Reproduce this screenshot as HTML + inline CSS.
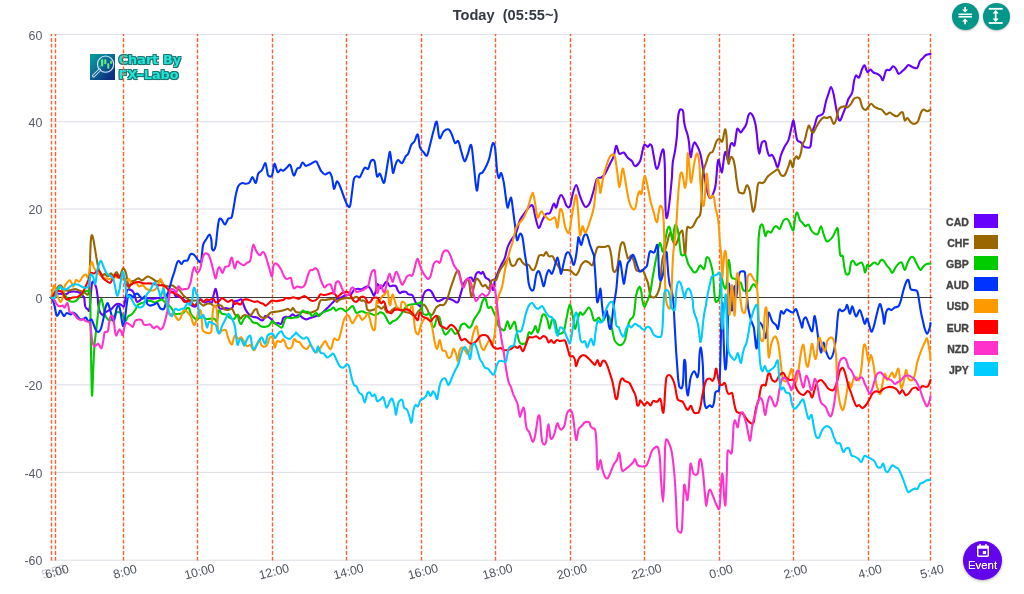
<!DOCTYPE html>
<html lang="en"><head><meta charset="utf-8"><title>Today (05:55~)</title>
<style>
html,body{margin:0;padding:0;background:#fff;}
body{width:1024px;height:594px;position:relative;overflow:hidden;font-family:"Liberation Sans",sans-serif;}
#chart{position:absolute;left:0;top:0;}
#title{position:absolute;left:0;width:1011px;top:5.6px;text-align:center;font-weight:bold;font-size:14.6px;color:#333843;white-space:pre;line-height:18px;}
.btn{position:absolute;top:2.9px;width:26.8px;height:26.8px;border-radius:50%;background:#009688;box-shadow:0 1px 2px rgba(0,0,0,.25);}
.btn svg{position:absolute;left:0;top:0;}
.lg{position:absolute;left:930px;width:68px;height:14px;}
.lt{position:absolute;right:29.2px;top:.8px;line-height:14px;font-size:10.5px;font-weight:bold;color:#444;letter-spacing:0;-webkit-text-stroke:.35px #444;}
.sw{position:absolute;right:0;top:0;width:24px;height:14px;}
#event{position:absolute;left:963px;top:541px;width:39px;height:39px;border-radius:50%;background:#6305ec;box-shadow:0 1px 3px rgba(0,0,0,.3);color:#fff;text-align:center;}
#event span{position:absolute;left:-2px;width:43px;top:17.6px;font-size:11.4px;line-height:12px;text-shadow:0 0 .4px #fff;}
#event svg{position:absolute;left:13.6px;top:3.2px;}
#logo{position:absolute;left:90.3px;top:54.4px;width:25.2px;height:25.2px;background:linear-gradient(135deg,#08a29b 0%,#0d6d97 45%,#0c3482 80%,#0c2a7c 100%);}
#logotxt{position:absolute;left:118.6px;top:53.2px;font-family:"DejaVu Sans","Liberation Sans",sans-serif;font-weight:bold;font-size:12.8px;line-height:14.6px;color:#20e6da;letter-spacing:.05px;text-shadow:0 0 1px #176f6b,1px 1px 0 #1f7672,-1px -1px 0 #1f7672,1px -1px 0 #1f7672,-1px 1px 0 #1f7672,.5px 1.2px .8px #0f5a57;}
#logotxt i{font-style:normal;display:inline-block;width:6.4px;text-align:center;transform:scaleX(1.75);}
</style></head><body>
<div id="logo"><svg width="25.2" height="25.2" viewBox="0 -0.3 25.2 25.2"><circle cx="15.600" cy="9.850" r="8.100" fill="none" stroke="#d6e8f4" stroke-width="1.150"/><line x1="9.500" y1="15.700" x2="3.600" y2="21.600" stroke="#d6e8f4" stroke-width="3.100" stroke-linecap="round"/><line x1="9.300" y1="15.900" x2="3.700" y2="21.500" stroke="#1a5f98" stroke-width="1.300" stroke-linecap="round"/><g fill="#6cf07c"><rect x="11.100" y="5" width="2.100" height="7.100" rx=".8"/><rect x="14.300" y="5" width="2" height="4.900" rx=".8"/><rect x="17.300" y="9" width="2" height="5.400" rx=".8"/><rect x="20.200" y="6.100" width="1.700" height="3.500" rx=".7"/><rect x="9.700" y="11.300" width=".9" height="1.400" rx=".4"/></g></svg></div>
<div id="logotxt">Chart By<br>FX<i>-</i>Labo</div>
<svg id="chart" width="1024" height="594" viewBox="0 0 1024 594">
<line x1="50.5" x2="930.5" y1="34.4" y2="34.4" stroke="#dcdde6" stroke-width="1"/>
<line x1="50.5" x2="930.5" y1="121.7" y2="121.7" stroke="#dcdde6" stroke-width="1"/>
<line x1="50.5" x2="930.5" y1="209.05" y2="209.05" stroke="#dcdde6" stroke-width="1"/>
<line x1="50.5" x2="930.5" y1="384.85" y2="384.85" stroke="#dcdde6" stroke-width="1"/>
<line x1="50.5" x2="930.5" y1="472.4" y2="472.4" stroke="#dcdde6" stroke-width="1"/>
<line x1="50.5" x2="930.5" y1="560.2" y2="560.2" stroke="#dcdde6" stroke-width="1"/>
<line x1="51.5" x2="51.5" y1="560.6" y2="34" stroke="#ff6130" stroke-width="1.4" stroke-dasharray="3.8 1.9"/>
<line x1="55.5" x2="55.5" y1="560.6" y2="34" stroke="#ff6130" stroke-width="1.4" stroke-dasharray="3.8 1.9"/>
<line x1="123.5" x2="123.5" y1="560.6" y2="34" stroke="#ff6130" stroke-width="1.4" stroke-dasharray="3.8 1.9"/>
<line x1="197.5" x2="197.5" y1="560.6" y2="34" stroke="#ff6130" stroke-width="1.4" stroke-dasharray="3.8 1.9"/>
<line x1="272.5" x2="272.5" y1="560.6" y2="34" stroke="#ff6130" stroke-width="1.4" stroke-dasharray="3.8 1.9"/>
<line x1="346.5" x2="346.5" y1="560.6" y2="34" stroke="#ff6130" stroke-width="1.4" stroke-dasharray="3.8 1.9"/>
<line x1="421.5" x2="421.5" y1="560.6" y2="34" stroke="#ff6130" stroke-width="1.4" stroke-dasharray="3.8 1.9"/>
<line x1="495.5" x2="495.5" y1="560.6" y2="34" stroke="#ff6130" stroke-width="1.4" stroke-dasharray="3.8 1.9"/>
<line x1="570.5" x2="570.5" y1="560.6" y2="34" stroke="#ff6130" stroke-width="1.4" stroke-dasharray="3.8 1.9"/>
<line x1="644.5" x2="644.5" y1="560.6" y2="34" stroke="#ff6130" stroke-width="1.4" stroke-dasharray="3.8 1.9"/>
<line x1="719.5" x2="719.5" y1="560.6" y2="34" stroke="#ff6130" stroke-width="1.4" stroke-dasharray="3.8 1.9"/>
<line x1="793.5" x2="793.5" y1="560.6" y2="34" stroke="#ff6130" stroke-width="1.4" stroke-dasharray="3.8 1.9"/>
<line x1="868.5" x2="868.5" y1="560.6" y2="34" stroke="#ff6130" stroke-width="1.4" stroke-dasharray="3.8 1.9"/>
<line x1="930.5" x2="930.5" y1="560.6" y2="34" stroke="#ff6130" stroke-width="1.4" stroke-dasharray="3.8 1.9"/>
<line x1="49.2" x2="932.3" y1="297.45" y2="297.45" stroke="#3a3a3a" stroke-width="1.1"/>
<g fill="none" stroke-width="2.1" stroke-linejoin="round" stroke-linecap="round">
<path stroke="#6600ff" d="M51.5,297.8C52.3,297.1 54.0,294.6 56.5,294.0C59.0,293.4 64.4,294.3 66.5,294.0C68.6,293.7 67.8,292.5 69.0,292.1C70.2,291.7 72.5,291.5 74.0,291.5C75.5,291.5 76.5,291.7 77.8,292.1C79.0,292.5 80.5,293.1 81.5,294.0C82.5,294.9 83.5,297.2 84.0,297.8C84.2,298.3 84.0,296.1 84.2,297.5C84.5,298.9 84.7,304.3 85.2,306.2C85.8,308.2 87.0,309.0 87.8,309.4C88.5,309.8 88.9,313.2 89.6,308.8C90.4,304.3 91.1,286.5 92.1,282.8C93.2,279.0 94.9,284.0 95.9,286.5C96.8,289.0 97.4,295.1 97.8,297.8C98.0,300.4 97.8,300.2 98.0,302.5C98.3,304.8 98.8,309.2 99.6,311.2C100.4,313.3 101.8,314.8 102.8,315.0C103.7,315.2 103.8,313.5 105.2,312.5C106.7,311.5 109.8,310.0 111.5,308.8C113.2,307.5 114.0,305.8 115.2,305.0C116.5,304.2 117.9,303.6 119.0,303.8C120.1,303.9 121.3,305.2 122.1,305.6C123.0,306.0 123.5,307.2 124.0,306.2C124.5,305.3 124.8,302.3 125.2,300.0C125.7,297.7 126.1,294.2 126.5,292.5C126.9,290.8 126.9,290.0 127.8,289.6C128.6,289.2 130.5,289.6 131.5,290.2C132.5,290.9 133.2,291.5 134.0,293.4C134.8,295.2 135.7,299.9 136.5,301.2C137.3,302.6 138.0,301.8 139.0,301.2C140.0,300.7 141.3,298.6 142.8,298.1C144.2,297.6 146.1,298.0 147.8,298.1C149.4,298.2 151.3,298.8 152.8,298.8C154.2,298.8 154.6,298.3 156.5,298.1C158.4,297.9 161.4,298.6 164.0,297.5C166.6,296.4 170.0,291.7 172.0,291.5C174.0,291.3 175.0,295.7 175.8,296.5C176.4,297.3 175.8,296.1 176.4,296.2C177.2,296.4 179.0,296.5 180.8,297.5C182.5,298.5 184.9,301.0 187.0,302.5C189.1,304.0 191.8,305.6 193.2,306.2C194.7,306.9 194.8,307.1 195.8,306.2C196.7,305.4 198.0,302.4 198.9,301.2C199.7,300.1 199.8,299.2 200.8,299.4C201.7,299.6 203.2,302.2 204.5,302.5C205.8,302.8 207.0,301.2 208.2,301.2C209.5,301.2 211.1,303.8 212.0,302.5C212.9,301.2 213.2,296.0 213.9,293.8C214.5,291.5 215.1,288.4 215.8,289.0C216.4,289.6 217.1,294.4 217.6,297.5C218.1,300.6 218.1,305.6 218.9,307.5C219.6,309.4 220.9,308.6 222.0,308.8C223.1,308.9 224.5,308.1 225.8,308.1C227.0,308.1 228.4,308.9 229.5,308.8C230.6,308.6 231.9,308.6 232.6,307.5C233.4,306.4 232.9,303.0 233.9,301.9C234.8,300.7 237.0,301.0 238.2,300.6C239.5,300.2 240.5,298.9 241.4,299.4C242.2,299.9 242.5,302.0 243.2,303.8C244.0,305.5 244.7,308.1 245.8,310.0C246.8,311.9 248.2,313.9 249.5,315.0C250.8,316.1 252.0,316.5 253.2,316.9C254.5,317.3 255.8,317.0 257.0,317.5C258.2,318.0 259.7,319.6 260.8,320.0C261.8,320.4 262.5,320.6 263.2,320.0C264.0,319.4 264.3,316.8 265.1,316.2C266.0,315.7 267.1,316.2 268.2,316.9C269.4,317.5 271.0,319.0 272.0,320.0C273.0,321.0 273.5,322.6 274.5,323.1C275.5,323.6 277.1,323.0 278.2,323.1C279.4,323.2 280.5,324.6 281.4,323.8C282.2,322.9 282.5,319.3 283.2,318.1C284.0,317.0 284.7,317.1 285.8,316.9C286.8,316.7 288.4,317.3 289.5,316.9C290.6,316.5 291.7,314.5 292.6,314.4C293.6,314.3 294.6,315.9 295.1,316.2C295.7,316.6 295.3,316.5 296.0,316.2C296.7,316.0 298.1,314.8 299.1,315.0C300.2,315.2 301.1,316.8 302.2,317.5C303.4,318.2 304.8,319.3 306.0,319.4C307.2,319.5 308.5,318.5 309.8,318.1C311.0,317.7 312.2,317.3 313.5,316.9C314.8,316.5 316.0,316.1 317.2,315.6C318.5,315.1 319.8,314.6 321.0,313.8C322.2,312.9 323.5,311.8 324.8,310.6C326.0,309.5 327.2,308.1 328.5,306.9C329.8,305.6 331.0,304.4 332.2,303.1C333.5,301.9 334.8,300.2 336.0,299.4C337.2,298.5 338.5,298.6 339.8,298.1C341.0,297.6 342.2,296.8 343.5,296.2C344.8,295.7 346.0,295.3 347.2,295.0C348.5,294.7 349.9,295.2 351.0,294.4C352.1,293.5 353.1,290.9 354.1,290.0C355.2,289.1 356.1,288.9 357.2,288.8C358.4,288.6 359.8,289.6 361.0,289.4C362.2,289.2 363.6,288.0 364.8,287.5C365.9,287.0 366.9,286.0 367.9,286.2C368.8,286.5 369.6,287.7 370.4,288.8C371.1,289.8 371.6,291.4 372.2,292.5C372.9,293.6 373.5,296.0 374.1,295.6C374.8,295.2 375.5,291.9 376.0,290.0C376.5,288.1 376.7,285.1 377.2,284.4C377.8,283.6 378.5,285.0 379.1,285.6C379.8,286.2 380.3,288.1 381.0,288.1C381.7,288.1 382.7,286.7 383.5,285.6C384.3,284.6 385.3,282.3 386.0,281.9C386.7,281.5 387.2,282.4 387.9,283.1C388.5,283.9 388.9,285.8 389.8,286.2C390.6,286.7 391.8,285.6 392.9,285.6C393.9,285.6 395.2,285.4 396.0,286.2C396.8,287.1 397.2,289.5 397.9,290.6C398.5,291.8 399.0,292.9 399.8,293.1C400.5,293.3 401.2,292.1 402.2,291.9C403.3,291.7 405.0,291.5 406.0,291.9C407.0,292.3 407.5,293.9 408.5,294.4C409.5,294.9 411.3,294.3 412.2,295.0C413.2,295.7 413.5,297.4 414.1,298.8C414.8,300.1 415.3,302.1 416.0,303.1C416.7,304.2 417.7,304.6 418.5,305.0C419.3,305.4 420.1,307.5 421.0,305.6C421.9,303.8 422.7,296.4 423.8,293.8C424.8,291.1 426.2,290.4 427.5,290.0C428.8,289.6 430.1,290.0 431.2,291.2C432.4,292.5 433.5,295.8 434.5,297.5C435.5,299.2 436.4,300.8 437.5,301.2C438.6,301.7 440.0,300.5 441.2,300.0C442.5,299.5 443.8,298.2 445.0,298.0C446.2,297.8 447.5,298.4 448.8,298.8C450.0,299.1 451.0,299.4 452.5,300.0C454.0,300.6 456.2,303.1 457.5,302.5C458.8,301.9 459.2,298.8 460.0,296.2C460.8,293.8 461.7,290.0 462.5,287.5C463.3,285.0 464.1,282.7 465.0,281.2C465.9,279.8 467.0,279.4 468.0,278.8C469.0,278.1 470.3,277.1 471.2,277.5C472.2,277.9 472.9,281.9 473.8,281.2C474.6,280.6 475.4,275.3 476.2,273.8C477.1,272.2 477.9,272.0 478.8,272.0C479.6,272.0 480.5,273.8 481.2,273.8C482.0,273.8 482.3,271.4 483.0,272.0C483.7,272.6 484.5,276.2 485.5,277.5C486.5,278.8 487.8,278.5 488.8,279.5C489.7,280.5 490.5,282.0 491.2,283.8C492.0,285.5 492.4,290.6 493.0,290.0C493.6,289.4 494.2,282.9 495.0,280.0C495.8,277.1 497.0,275.0 498.0,272.5C499.0,270.0 500.1,267.5 501.2,265.0C502.4,262.5 504.0,260.4 505.0,257.5C506.0,254.6 506.5,250.4 507.5,247.5C508.5,244.6 509.8,242.5 511.2,240.0C512.7,237.5 514.8,235.8 516.2,232.5C517.7,229.2 518.5,223.3 520.0,220.0C521.5,216.7 523.3,214.8 525.0,212.5C526.7,210.2 528.7,207.3 530.0,206.2C531.3,205.2 532.1,204.4 533.0,206.2C533.9,208.1 534.5,213.9 535.5,217.5C536.5,221.1 537.6,227.6 538.8,228.0C539.9,228.4 541.2,222.4 542.5,220.0C543.8,217.6 545.0,214.9 546.2,213.8C547.5,212.6 548.8,214.7 550.0,213.0C551.2,211.3 552.7,204.7 553.8,203.8C554.8,202.8 555.4,208.3 556.2,207.5C557.1,206.7 557.9,200.8 558.8,198.8C559.6,196.7 560.4,195.0 561.2,195.0C562.1,195.0 562.8,196.9 563.8,198.8C564.7,200.6 565.7,205.0 566.8,206.2C567.8,207.5 569.0,208.1 570.0,206.2C571.0,204.4 571.5,198.5 572.5,195.0C573.5,191.5 575.0,184.8 576.2,185.0C577.5,185.2 578.8,192.9 580.0,196.2C581.2,199.6 582.7,203.2 583.8,205.0C584.8,206.8 585.2,207.4 586.2,207.0C587.3,206.6 588.8,205.3 590.0,202.5C591.2,199.7 592.6,194.0 593.8,190.0C594.9,186.0 595.8,180.8 597.0,178.8C598.2,176.7 599.9,178.3 601.2,177.5C602.6,176.7 603.5,176.0 605.0,173.8C606.5,171.5 608.5,166.7 610.0,163.8C611.5,160.8 612.7,159.2 613.8,156.2C614.8,153.2 615.3,146.2 616.2,145.8C617.2,145.3 618.0,152.6 619.2,153.8C620.5,154.9 622.4,151.9 623.8,152.5C625.1,153.1 626.1,156.0 627.5,157.5C628.9,159.0 630.8,159.8 632.0,161.2C633.2,162.7 633.7,166.2 635.0,166.2C636.3,166.2 638.9,163.3 640.0,161.2C641.1,159.2 641.2,156.4 641.9,153.8C642.5,151.1 643.1,147.1 643.8,145.6C644.4,144.2 645.0,144.8 645.6,145.0C646.3,145.2 647.0,147.0 647.8,146.9C648.5,146.8 649.3,144.5 650.0,144.4C650.7,144.3 651.2,144.3 651.9,146.2C652.5,148.2 653.1,152.9 653.8,156.2C654.4,159.6 655.0,164.2 655.6,166.2C656.2,168.3 656.7,169.0 657.2,168.8C657.8,168.5 658.2,167.1 658.8,165.0C659.3,162.9 660.0,158.8 660.6,156.2C661.2,153.8 662.0,150.8 662.5,150.0C663.0,149.2 663.4,148.8 663.8,151.2C664.1,153.8 664.5,158.8 664.8,165.0C665.0,171.2 665.0,181.2 665.1,188.8C665.3,196.2 665.4,205.1 665.6,210.0C665.9,214.9 666.1,217.7 666.5,218.1C666.9,218.5 667.5,215.9 668.1,212.5C668.7,209.1 669.4,203.3 670.0,197.5C670.6,191.7 671.4,183.3 671.9,177.5C672.3,171.7 672.2,166.9 672.8,162.5C673.3,158.1 674.3,155.6 675.0,151.2C675.7,146.9 676.4,141.7 676.9,136.2C677.4,130.8 677.5,123.0 677.9,118.8C678.3,114.5 678.8,112.2 679.4,110.6C679.9,109.1 680.6,109.3 681.2,109.4C681.9,109.5 682.7,109.3 683.1,111.2C683.6,113.2 683.6,118.3 684.0,121.2C684.4,124.2 685.0,126.6 685.6,128.8C686.2,130.9 686.9,132.1 687.5,134.4C688.1,136.7 688.6,139.3 689.0,142.5C689.4,145.7 689.7,151.4 690.0,153.8C690.3,156.1 690.6,157.9 691.0,156.9C691.4,155.8 691.9,149.9 692.5,147.5C693.1,145.1 693.8,143.0 694.4,142.5C695.0,142.0 695.5,143.2 696.2,144.4C697.0,145.5 698.0,147.6 698.8,149.4C699.5,151.1 700.0,152.6 700.6,155.0C701.2,157.4 701.7,160.6 702.2,163.8C702.8,166.9 703.3,171.3 703.8,174.0C704.2,176.7 704.5,177.3 705.0,180.0C705.5,182.7 706.2,187.3 706.9,190.0C707.5,192.7 708.1,194.9 708.8,196.2C709.4,197.6 709.9,198.5 710.6,198.1C711.4,197.7 712.3,195.9 713.1,193.8C714.0,191.6 714.9,190.0 715.6,185.0C716.4,180.0 717.0,167.9 717.5,163.8C718.0,159.6 718.3,159.6 718.8,160.0C719.2,160.4 719.5,164.2 720.0,166.2C720.5,168.3 721.4,172.7 721.9,172.5C722.4,172.3 722.7,167.9 723.1,165.0C723.5,162.1 724.0,157.2 724.4,155.0C724.8,152.8 725.2,151.7 725.6,151.9C726.0,152.1 726.5,154.9 726.9,156.2C727.3,157.6 727.7,161.0 728.1,160.0C728.5,159.0 729.0,152.6 729.4,150.0C729.8,147.4 730.1,145.5 730.6,144.4C731.1,143.2 731.6,142.9 732.2,143.1C732.9,143.3 733.8,146.4 734.4,145.6C734.9,144.9 735.2,141.4 735.6,138.8C736.0,136.1 736.5,131.7 736.9,130.0C737.3,128.3 737.5,128.3 738.1,128.8C738.8,129.2 739.8,132.4 740.6,132.5C741.5,132.6 742.2,130.7 743.1,129.4C744.1,128.0 745.4,126.6 746.2,124.4C747.1,122.2 747.5,118.1 748.1,116.2C748.8,114.4 749.4,113.4 750.0,113.1C750.6,112.8 751.2,113.5 751.9,114.4C752.5,115.2 753.1,116.4 753.8,118.1C754.4,119.9 755.1,122.2 755.6,125.0C756.1,127.8 756.5,131.2 756.9,135.0C757.3,138.8 757.7,144.4 758.1,147.5C758.5,150.6 759.0,153.8 759.4,153.8C759.8,153.8 760.2,149.4 760.6,147.5C761.0,145.6 761.4,143.5 761.9,142.5C762.4,141.5 763.1,141.4 763.8,141.2C764.4,141.1 765.1,140.6 765.6,141.9C766.1,143.1 766.3,146.5 766.9,148.8C767.4,151.0 768.1,154.5 769.0,155.5C769.9,156.5 771.3,154.2 772.2,155.0C773.2,155.8 773.8,158.0 774.8,160.0C775.7,162.0 776.7,167.8 777.8,167.0C778.8,166.2 779.8,158.5 781.0,155.0C782.2,151.5 783.5,148.8 784.8,146.2C786.0,143.8 787.4,143.1 788.5,140.0C789.6,136.9 790.7,130.8 791.5,127.5C792.3,124.2 792.9,120.1 793.5,120.5C794.1,120.9 794.6,126.8 795.2,130.0C795.9,133.2 796.3,137.9 797.2,140.0C798.2,142.1 800.0,141.5 801.0,142.5C802.0,143.5 802.5,145.4 803.5,146.2C804.5,147.1 806.1,147.5 807.2,147.5C808.4,147.5 809.7,148.8 810.5,146.2C811.3,143.8 811.5,136.0 812.2,132.5C813.0,129.0 813.9,127.6 814.8,125.0C815.6,122.4 816.2,118.7 817.2,117.0C818.3,115.3 820.0,115.8 821.0,115.0C822.0,114.2 822.7,114.8 823.5,112.5C824.3,110.2 825.2,104.4 826.0,101.2C826.8,98.1 827.7,96.1 828.5,93.8C829.3,91.4 830.2,87.0 831.0,87.0C831.8,87.0 832.7,90.3 833.5,93.8C834.3,97.2 835.2,103.3 836.0,107.5C836.8,111.7 837.8,116.7 838.5,118.8C839.2,120.8 839.8,120.8 840.5,120.0C841.2,119.2 842.1,116.0 843.0,113.8C843.9,111.5 845.1,108.8 846.0,106.2C846.9,103.8 847.5,101.0 848.5,98.8C849.5,96.5 851.3,95.4 852.2,92.5C853.2,89.6 853.4,84.1 854.0,81.2C854.6,78.4 855.2,76.1 856.0,75.5C856.8,74.9 858.0,78.6 859.0,77.5C860.0,76.4 861.3,70.8 862.2,68.8C863.2,66.8 863.9,65.0 864.8,65.5C865.6,66.0 866.3,71.3 867.2,72.0C868.2,72.7 869.5,69.4 870.5,69.5C871.5,69.6 872.4,71.8 873.5,72.5C874.6,73.2 876.1,73.1 877.2,73.8C878.4,74.4 879.5,75.2 880.5,76.2C881.5,77.3 882.1,81.0 883.0,80.0C883.9,79.0 884.9,72.2 886.0,70.5C887.1,68.8 888.6,70.7 889.8,70.0C890.9,69.3 892.0,66.5 893.0,66.2C894.0,66.0 895.1,67.5 896.0,68.8C896.9,70.0 897.5,73.3 898.5,73.8C899.5,74.2 901.0,72.3 902.2,71.2C903.5,70.2 905.0,68.5 906.0,67.5C907.0,66.5 907.5,65.1 908.5,65.0C909.5,64.9 910.8,66.5 912.2,67.0C913.7,67.5 916.0,69.0 917.2,68.0C918.5,67.0 918.9,62.8 919.8,61.2C920.6,59.7 921.2,59.8 922.2,58.8C923.3,57.7 924.6,55.8 926.0,55.0C927.4,54.2 929.8,54.2 930.5,54.0"/>
<path stroke="#996600" d="M51.5,297.8C52.1,296.7 54.2,293.3 55.2,291.5C56.3,289.7 56.9,288.2 57.8,287.1C58.6,286.1 59.4,285.1 60.2,285.2C61.1,285.4 61.9,286.9 62.8,287.8C63.6,288.6 64.2,289.8 65.2,290.2C66.3,290.7 67.3,290.7 69.0,290.5C70.7,290.3 73.7,289.0 75.2,289.0C76.8,289.0 76.9,289.7 78.4,290.2C79.8,290.8 82.3,291.5 84.0,292.1C85.7,292.8 87.4,296.0 88.4,294.0C89.3,292.0 89.3,286.7 89.6,280.2C89.9,273.8 90.0,261.9 90.2,255.2C90.5,248.6 90.6,243.6 90.9,240.2C91.1,236.9 91.4,235.7 91.8,235.2C92.1,234.8 92.5,235.9 93.0,237.8C93.5,239.6 94.1,243.4 94.6,246.5C95.2,249.6 95.7,253.4 96.2,256.5C96.8,259.6 97.2,262.8 97.8,265.2C98.3,267.8 98.8,269.8 99.6,271.5C100.5,273.2 101.9,274.8 102.8,275.2C103.6,275.7 103.8,273.8 104.6,274.0C105.5,274.2 106.7,276.6 107.8,276.5C108.8,276.4 109.9,273.5 110.9,273.4C111.8,273.3 112.4,276.1 113.4,275.9C114.3,275.7 115.5,272.0 116.5,272.1C117.5,272.2 118.5,277.1 119.6,276.5C120.7,275.9 122.0,269.0 123.0,268.4C124.0,267.8 125.1,270.4 125.9,272.8C126.7,275.1 127.2,280.2 127.8,282.8C128.3,285.2 128.4,288.0 129.0,287.8C129.6,287.5 130.7,282.6 131.5,281.5C132.3,280.4 132.9,281.4 134.0,280.9C135.1,280.4 137.0,278.5 138.4,278.4C139.7,278.3 140.6,280.6 142.1,280.2C143.7,279.9 146.0,276.7 147.8,276.5C149.5,276.3 151.3,278.2 152.8,279.0C154.2,279.8 155.2,281.2 156.5,281.5C157.8,281.8 159.0,280.2 160.2,280.9C161.5,281.5 162.5,284.3 164.0,285.2C165.5,286.2 167.7,286.5 169.0,286.5C170.3,286.5 170.9,285.0 172.0,285.2C173.1,285.5 174.5,286.9 175.8,287.8C177.0,288.6 178.2,289.0 179.5,290.2C180.8,291.5 182.2,294.0 183.2,295.2C184.3,296.5 184.7,296.7 185.8,297.5C186.8,298.3 188.2,299.5 189.5,300.0C190.8,300.5 192.0,300.5 193.2,300.6C194.5,300.7 195.9,300.2 197.0,300.6C198.1,301.0 199.1,302.3 200.1,303.1C201.2,304.0 202.1,305.5 203.2,305.6C204.4,305.7 205.8,304.1 207.0,303.8C208.2,303.4 209.5,303.3 210.8,303.8C212.0,304.2 213.2,306.0 214.5,306.2C215.8,306.5 217.1,305.1 218.2,305.0C219.4,304.9 220.3,304.9 221.4,305.6C222.4,306.4 223.4,308.6 224.5,309.4C225.6,310.1 227.0,310.1 228.2,310.0C229.5,309.9 231.0,308.1 232.0,308.8C233.0,309.4 233.8,312.6 234.5,313.8C235.2,314.9 235.8,315.4 236.4,315.6C237.0,315.8 237.6,314.5 238.2,315.0C238.9,315.5 239.4,318.5 240.1,318.8C240.9,319.0 241.8,316.9 242.6,316.2C243.5,315.6 244.2,315.0 245.1,315.0C246.1,315.0 247.1,316.5 248.2,316.2C249.4,316.0 251.0,314.8 252.0,313.8C253.0,312.7 253.7,310.7 254.5,310.0C255.3,309.3 256.1,308.8 256.8,309.4C257.4,310.0 257.6,312.5 258.2,313.8C258.9,315.0 259.7,316.1 260.8,316.9C261.8,317.6 263.4,318.3 264.5,318.1C265.6,317.9 266.6,316.6 267.6,315.6C268.7,314.7 269.6,313.1 270.8,312.5C271.9,311.9 273.0,312.1 274.5,311.9C276.0,311.7 277.8,311.6 279.5,311.2C281.2,310.9 283.1,310.4 284.5,310.0C285.9,309.6 286.6,308.6 287.6,308.8C288.7,308.9 289.9,310.8 290.8,310.6C291.6,310.5 292.2,307.7 293.0,307.9C293.8,308.1 294.7,311.1 295.8,311.9C296.8,312.6 297.8,312.5 299.1,312.5C300.4,312.5 302.1,311.8 303.5,311.9C304.9,312.0 306.0,313.0 307.2,313.1C308.5,313.2 309.8,312.8 311.0,312.5C312.2,312.2 313.6,311.9 314.8,311.2C315.9,310.6 317.1,310.0 317.9,308.8C318.6,307.5 318.6,305.2 319.1,303.8C319.6,302.3 320.1,300.6 321.0,300.0C321.9,299.4 323.5,300.1 324.8,300.0C326.0,299.9 327.2,299.6 328.5,299.4C329.8,299.2 331.2,298.8 332.2,298.8C333.3,298.8 334.0,298.9 334.8,299.4C335.5,299.9 335.9,301.8 336.6,301.9C337.4,302.0 338.2,300.5 339.1,300.0C340.1,299.5 341.1,299.1 342.2,298.8C343.4,298.4 344.8,298.2 346.0,298.1C347.2,298.0 348.5,298.1 349.8,298.1C351.0,298.1 352.5,298.3 353.5,298.1C354.5,297.9 355.2,296.9 356.0,296.9C356.8,296.9 357.7,297.5 358.5,298.1C359.3,298.8 360.1,300.2 361.0,300.6C361.9,301.0 363.3,300.2 364.1,300.6C365.0,301.0 365.5,301.8 366.0,303.1C366.5,304.5 366.5,307.5 367.0,308.8C367.5,310.0 368.2,310.4 369.1,310.6C370.0,310.8 371.2,310.3 372.2,310.0C373.3,309.7 374.5,309.4 375.4,308.8C376.2,308.1 376.6,306.6 377.2,306.2C377.9,305.9 378.4,306.5 379.1,306.9C379.9,307.3 380.8,308.9 381.6,308.8C382.5,308.6 383.5,306.0 384.1,306.2C384.8,306.5 384.9,309.0 385.4,310.0C385.9,311.0 386.5,312.2 387.2,312.5C388.0,312.8 388.8,312.4 389.8,311.9C390.7,311.4 391.8,310.1 392.9,309.4C393.9,308.6 395.0,307.6 396.0,307.5C397.0,307.4 398.1,308.3 399.1,308.8C400.2,309.2 401.3,309.5 402.2,310.0C403.2,310.5 403.8,311.5 404.8,311.9C405.7,312.3 406.8,312.2 407.9,312.5C408.9,312.8 410.0,313.1 411.0,313.8C412.0,314.4 413.3,316.0 414.1,316.2C415.0,316.5 415.4,315.7 416.0,315.0C416.6,314.3 417.2,312.7 417.9,311.9C418.5,311.0 419.1,310.7 419.8,310.0C420.4,309.3 421.0,308.4 421.6,307.5C422.3,306.6 422.9,304.3 423.8,304.5C424.6,304.7 426.0,307.0 427.0,308.8C428.0,310.5 429.0,314.2 430.0,315.0C431.0,315.8 432.0,315.0 433.0,313.8C434.0,312.5 435.1,309.0 436.2,307.5C437.4,306.0 438.8,305.4 440.0,305.0C441.2,304.6 442.6,305.8 443.8,305.0C444.9,304.2 446.0,302.5 447.0,300.0C448.0,297.5 449.0,293.1 450.0,290.0C451.0,286.9 452.0,284.2 453.0,281.2C454.0,278.3 455.3,274.2 456.2,272.5C457.2,270.8 457.9,269.8 458.8,271.2C459.6,272.7 460.4,278.8 461.2,281.2C462.1,283.8 462.9,286.2 463.8,286.2C464.6,286.2 465.4,282.3 466.2,281.2C467.1,280.2 467.9,277.5 468.8,280.0C469.6,282.5 470.4,295.0 471.2,296.2C472.1,297.5 472.9,290.4 473.8,287.5C474.6,284.6 475.3,279.8 476.2,278.8C477.2,277.7 478.5,280.0 479.5,281.2C480.5,282.5 481.5,285.6 482.5,286.2C483.5,286.9 484.5,284.6 485.5,285.0C486.5,285.4 487.8,289.4 488.8,288.8C489.7,288.1 490.4,282.8 491.2,281.2C492.1,279.7 492.9,279.7 493.8,279.5C494.6,279.3 495.4,281.2 496.2,280.0C497.1,278.8 497.7,274.8 498.8,272.5C499.8,270.2 501.2,268.1 502.5,266.2C503.8,264.4 505.2,262.7 506.2,261.2C507.3,259.8 507.9,256.9 508.8,257.5C509.6,258.1 510.2,263.8 511.2,265.0C512.3,266.2 514.0,265.8 515.0,265.0C516.0,264.2 516.7,261.0 517.5,260.0C518.3,259.0 519.2,258.3 520.0,258.8C520.8,259.2 521.6,261.5 522.5,262.5C523.4,263.5 524.5,264.6 525.5,265.0C526.5,265.4 527.8,264.4 528.8,265.0C529.7,265.6 530.4,267.9 531.2,268.8C532.1,269.6 532.9,270.6 533.8,270.0C534.6,269.4 535.4,267.3 536.2,265.0C537.1,262.7 537.9,257.9 538.8,256.2C539.6,254.6 540.4,255.1 541.2,255.0C542.1,254.9 542.9,256.0 543.8,255.5C544.6,255.0 545.4,251.9 546.2,252.0C547.1,252.1 547.7,255.5 548.8,256.2C549.8,257.0 551.5,255.4 552.5,256.2C553.5,257.1 554.2,259.8 555.0,261.2C555.8,262.7 556.7,263.8 557.5,265.0C558.3,266.2 559.0,267.9 560.0,268.8C561.0,269.6 562.5,269.8 563.8,270.0C565.0,270.2 566.2,269.8 567.5,270.0C568.8,270.2 570.2,270.6 571.2,271.2C572.3,271.9 572.9,273.1 573.8,273.8C574.6,274.4 575.4,275.4 576.2,275.0C577.1,274.6 577.9,272.9 578.8,271.2C579.6,269.6 580.2,266.7 581.2,265.0C582.3,263.3 583.8,261.7 585.0,261.2C586.2,260.8 587.5,261.9 588.8,262.5C590.0,263.1 591.5,266.2 592.5,265.0C593.5,263.8 594.2,257.9 595.0,255.0C595.8,252.1 596.5,248.8 597.5,247.5C598.5,246.2 600.0,247.1 601.2,247.0C602.5,246.9 603.8,247.1 605.0,247.0C606.2,246.9 607.7,244.9 608.8,246.2C609.8,247.6 610.5,251.0 611.2,255.0C612.0,259.0 612.3,267.3 613.0,270.0C613.7,272.7 614.8,271.9 615.5,271.2C616.2,270.6 616.8,269.6 617.5,266.2C618.2,262.9 618.9,255.0 619.5,251.2C620.1,247.5 620.5,245.1 621.2,243.8C622.0,242.4 622.9,241.5 623.8,243.0C624.6,244.5 625.5,249.9 626.2,252.5C627.0,255.1 627.2,258.2 628.0,258.8C628.8,259.2 630.3,255.1 631.2,255.5C632.2,255.9 632.9,258.8 633.8,261.2C634.6,263.7 635.2,268.3 636.2,270.0C637.3,271.7 639.0,271.3 640.0,271.2C641.0,271.2 641.8,269.4 642.5,269.8C643.2,270.1 643.8,272.0 644.4,273.5C645.0,275.0 645.6,276.8 646.2,278.5C646.9,280.2 647.6,281.4 648.1,283.5C648.6,285.6 649.0,288.9 649.4,291.0C649.8,293.1 650.0,294.9 650.6,296.0C651.2,297.1 652.3,297.4 653.1,297.5C654.0,297.6 654.9,297.3 655.6,296.6C656.4,296.0 656.9,294.9 657.5,293.5C658.1,292.1 658.9,290.6 659.4,288.5C659.9,286.4 660.3,284.6 660.6,281.0C661.0,277.4 661.2,270.7 661.5,267.0C661.8,263.3 662.0,261.5 662.5,259.0C663.0,256.5 663.8,254.5 664.5,252.0C665.2,249.5 666.2,246.6 666.9,244.0C667.6,241.4 668.1,238.2 668.8,236.2C669.4,234.3 670.1,232.3 670.6,232.5C671.1,232.7 671.4,235.8 671.9,237.5C672.4,239.2 673.1,241.8 673.8,243.0C674.4,244.2 674.9,245.3 675.5,245.0C676.1,244.7 676.8,242.8 677.5,241.0C678.2,239.2 678.9,235.6 679.5,234.0C680.1,232.4 680.8,232.0 681.2,231.5C681.8,231.0 682.1,229.8 682.5,231.2C682.9,232.7 683.2,236.7 683.5,240.0C683.8,243.3 684.1,248.5 684.4,251.0C684.7,253.5 685.0,255.9 685.2,254.8C685.5,253.6 685.8,247.8 686.0,244.0C686.2,240.2 686.4,234.8 686.6,232.0C686.9,229.2 686.9,227.7 687.5,227.0C688.1,226.3 689.2,228.0 690.0,228.0C690.8,228.0 691.7,227.8 692.5,226.9C693.3,226.0 694.3,223.9 695.0,222.5C695.7,221.1 696.2,219.8 696.9,218.8C697.6,217.7 698.8,217.3 699.4,216.2C700.0,215.2 700.2,215.0 700.6,212.5C701.0,210.0 701.2,206.2 701.5,201.2C701.8,196.2 702.0,187.4 702.2,182.5C702.5,177.6 702.7,174.5 703.1,172.0C703.5,169.5 703.9,169.1 704.4,167.5C704.9,165.9 705.6,164.4 706.2,162.5C706.9,160.6 707.5,157.8 708.1,156.2C708.8,154.7 709.3,153.9 710.0,153.1C710.7,152.4 711.8,152.8 712.5,151.9C713.2,150.9 713.8,149.2 714.4,147.5C715.0,145.8 715.6,143.2 716.2,141.9C716.9,140.5 717.5,139.8 718.1,139.4C718.8,139.0 719.4,139.0 720.0,139.4C720.6,139.8 721.4,142.0 721.9,141.9C722.4,141.8 722.7,140.4 723.1,138.8C723.5,137.1 724.0,133.4 724.4,131.9C724.8,130.3 725.0,128.6 725.4,129.4C725.7,130.1 726.2,132.8 726.5,136.2C726.8,139.7 726.9,146.0 727.1,150.0C727.3,154.0 727.5,157.7 727.8,160.0C728.0,162.3 728.4,164.0 728.8,163.8C729.1,163.5 729.6,159.9 730.0,158.8C730.4,157.6 730.7,156.9 731.2,156.9C731.8,156.9 732.6,157.6 733.1,158.8C733.6,159.9 734.0,161.9 734.4,163.8C734.8,165.6 735.1,167.7 735.4,170.0C735.7,172.3 735.9,174.8 736.2,177.5C736.6,180.2 737.1,183.9 737.5,186.2C737.9,188.6 738.1,190.7 738.8,191.9C739.4,193.0 740.4,192.9 741.2,193.1C742.1,193.3 743.1,193.6 743.8,193.1C744.4,192.6 744.5,191.2 745.0,190.0C745.5,188.8 746.0,186.2 746.5,185.6C747.0,185.0 747.6,185.3 748.1,186.2C748.7,187.2 749.2,188.8 749.8,191.2C750.3,193.8 750.8,198.1 751.2,201.2C751.7,204.4 752.1,208.3 752.5,210.0C752.9,211.7 753.1,211.9 753.5,211.2C753.9,210.6 754.5,209.0 755.0,206.2C755.5,203.5 756.0,198.5 756.5,195.0C757.0,191.5 757.3,187.1 757.8,185.0C758.2,182.9 758.7,182.8 759.4,182.5C760.1,182.2 761.0,183.2 761.9,183.1C762.7,183.0 763.6,182.6 764.4,181.9C765.1,181.1 765.6,179.7 766.2,178.8C766.9,177.8 767.2,177.1 768.0,176.2C768.8,175.4 769.9,174.6 771.0,173.8C772.1,172.9 773.6,172.0 774.8,171.2C775.9,170.5 777.0,168.9 778.0,169.5C779.0,170.1 779.9,174.1 781.0,175.0C782.1,175.9 783.5,176.5 784.8,175.0C786.0,173.5 787.5,168.7 788.5,166.2C789.5,163.8 789.8,160.3 790.5,160.5C791.2,160.7 792.1,167.6 792.8,167.5C793.4,167.4 793.6,161.9 794.2,160.0C794.9,158.1 795.8,156.5 796.5,156.2C797.2,156.0 797.8,159.4 798.5,158.8C799.2,158.1 800.4,154.8 801.0,152.5C801.6,150.2 801.6,147.1 802.2,145.0C802.9,142.9 803.9,142.5 804.8,140.0C805.6,137.5 806.5,132.4 807.2,130.0C808.0,127.6 808.3,125.3 809.0,125.5C809.7,125.7 810.8,130.1 811.5,131.2C812.2,132.4 812.8,133.1 813.5,132.5C814.2,131.9 815.0,129.4 816.0,127.5C817.0,125.6 818.5,122.9 819.8,121.2C821.0,119.6 822.2,118.0 823.5,117.5C824.8,117.0 826.1,118.1 827.2,118.0C828.4,117.9 829.5,116.0 830.5,117.0C831.5,118.0 832.6,123.2 833.5,123.8C834.4,124.2 835.2,122.3 836.0,120.0C836.8,117.7 837.6,112.2 838.5,110.0C839.4,107.8 840.5,107.6 841.5,107.0C842.5,106.4 843.8,106.2 844.8,106.2C845.7,106.3 846.2,107.9 847.2,107.5C848.3,107.1 849.9,105.2 851.0,103.8C852.1,102.3 853.0,99.8 854.0,98.8C855.0,97.7 856.3,97.5 857.2,97.5C858.2,97.5 858.9,97.2 859.8,98.8C860.6,100.3 861.3,105.1 862.2,107.0C863.2,108.9 864.3,109.9 865.2,110.0C866.2,110.1 867.0,108.5 868.0,107.5C869.0,106.5 869.9,103.8 871.0,103.8C872.1,103.7 873.5,106.2 874.8,107.0C876.0,107.8 877.2,108.2 878.5,108.8C879.8,109.2 881.0,109.0 882.2,110.0C883.5,111.0 884.8,114.1 886.0,114.5C887.2,114.9 888.5,112.4 889.8,112.5C891.0,112.6 892.2,114.4 893.5,115.0C894.8,115.6 896.0,116.7 897.2,116.2C898.5,115.8 900.0,113.0 901.0,112.5C902.0,112.0 902.4,111.7 903.0,113.0C903.6,114.3 904.0,119.7 904.8,120.5C905.5,121.3 906.2,117.7 907.2,118.0C908.3,118.3 909.8,121.5 911.0,122.5C912.2,123.5 913.6,124.0 914.8,123.8C915.9,123.5 917.0,123.1 918.0,121.2C919.0,119.4 920.1,114.5 921.0,112.5C921.9,110.5 922.5,109.7 923.5,109.5C924.5,109.3 926.1,111.2 927.2,111.2C928.4,111.3 930.0,110.2 930.5,110.0"/>
<path stroke="#00cc00" d="M51.5,297.5C52.2,296.8 54.5,294.8 56.0,293.0C57.5,291.2 58.9,287.0 60.2,287.0C61.6,287.0 62.5,290.7 64.0,293.0C65.5,295.3 67.1,299.2 69.0,300.6C70.9,302.0 73.6,301.8 75.2,301.2C76.9,300.7 77.3,299.1 79.0,297.5C80.7,295.9 83.8,292.6 85.2,291.5C86.8,290.4 87.2,290.8 88.0,291.0C88.8,291.2 89.5,286.5 90.0,293.0C90.5,299.5 90.4,313.1 90.7,330.0C91.0,346.9 91.5,387.7 91.9,394.4C92.3,401.1 92.8,378.2 93.2,370.0C93.6,361.8 94.0,352.1 94.5,345.0C95.0,337.9 95.8,334.0 96.5,327.5C97.2,321.0 98.2,311.0 99.0,306.2C99.8,301.5 100.5,299.2 101.1,298.8C101.7,298.3 102.1,301.0 102.8,303.8C103.4,306.5 104.4,312.4 105.2,315.0C106.1,317.6 106.7,318.5 107.8,319.4C108.8,320.2 110.5,320.5 111.5,320.0C112.5,319.5 113.2,317.5 114.0,316.2C114.8,315.0 115.5,313.1 116.5,312.5C117.5,311.9 119.2,312.1 120.2,312.5C121.3,312.9 121.9,313.5 122.8,315.0C123.6,316.5 124.4,320.9 125.2,321.2C126.1,321.6 126.7,318.0 127.8,316.9C128.8,315.7 130.2,315.5 131.5,314.4C132.8,313.2 134.2,311.6 135.2,310.0C136.3,308.4 136.7,306.1 137.8,305.0C138.8,303.9 140.2,303.6 141.5,303.1C142.8,302.6 144.2,302.3 145.2,301.9C146.3,301.5 146.7,300.7 147.8,300.6C148.8,300.5 150.2,300.9 151.5,301.2C152.8,301.6 154.0,302.6 155.2,302.5C156.5,302.4 158.0,301.1 159.0,300.6C160.0,300.1 160.7,299.3 161.5,299.4C162.3,299.5 163.1,300.5 164.0,301.2C164.9,302.0 165.8,302.5 167.1,303.8C168.5,305.0 170.8,307.1 172.0,308.8C173.2,310.4 173.5,312.9 174.5,313.8C175.5,314.6 176.8,313.9 178.2,313.8C179.7,313.6 181.9,314.0 183.2,313.1C184.6,312.3 185.4,309.6 186.4,308.8C187.3,307.9 188.1,307.3 188.9,308.1C189.6,309.0 190.0,312.3 190.8,313.8C191.5,315.2 192.2,315.9 193.2,316.9C194.3,317.8 195.5,319.5 197.0,319.4C198.5,319.3 200.5,316.4 202.0,316.2C203.5,316.1 204.3,318.3 205.8,318.8C207.2,319.2 209.3,318.8 210.8,318.8C212.2,318.8 213.5,318.3 214.5,318.8C215.5,319.2 216.3,322.6 217.0,321.2C217.7,319.9 218.0,311.9 218.9,310.6C219.7,309.4 220.9,313.1 222.0,313.8C223.1,314.4 224.5,313.8 225.8,314.4C227.0,315.0 228.2,316.7 229.5,317.5C230.8,318.3 232.2,319.5 233.2,319.4C234.3,319.3 235.0,317.6 235.8,316.9C236.5,316.1 237.0,314.2 237.6,315.0C238.2,315.8 238.9,320.4 239.5,321.9C240.1,323.3 240.6,324.3 241.4,323.8C242.1,323.2 242.9,320.0 243.9,318.8C244.8,317.5 246.0,316.2 247.0,316.2C248.0,316.2 249.1,317.7 250.1,318.8C251.2,319.8 252.1,321.8 253.2,322.5C254.4,323.2 255.8,322.5 257.0,323.1C258.2,323.8 259.5,325.6 260.8,326.2C262.0,326.9 263.1,327.0 264.5,326.9C265.9,326.8 267.6,326.6 268.9,325.6C270.1,324.7 271.1,321.7 272.0,321.2C272.9,320.8 273.5,322.4 274.5,323.1C275.5,323.9 277.0,324.9 278.2,325.6C279.5,326.4 281.0,328.3 282.0,327.5C283.0,326.7 283.7,322.3 284.5,320.6C285.3,319.0 286.0,317.9 287.0,317.5C288.0,317.1 289.5,318.1 290.8,318.1C292.0,318.1 293.6,317.6 294.5,317.5C295.4,317.4 295.3,317.6 296.0,317.5C296.7,317.4 297.8,317.5 298.5,316.9C299.2,316.2 299.6,314.8 300.4,313.8C301.1,312.7 302.0,310.9 302.9,310.6C303.7,310.3 304.5,311.7 305.4,311.9C306.2,312.1 307.0,311.6 307.9,311.9C308.7,312.2 309.6,313.0 310.4,313.8C311.1,314.5 311.5,316.2 312.2,316.2C313.0,316.2 314.0,314.3 314.8,313.8C315.5,313.2 316.0,312.7 316.6,313.1C317.2,313.5 317.8,316.1 318.5,316.2C319.2,316.4 320.1,314.5 321.0,313.8C321.9,313.0 323.0,312.4 324.1,311.9C325.3,311.4 326.7,311.0 327.9,310.6C329.0,310.2 330.1,309.9 331.0,309.4C331.9,308.9 332.7,307.3 333.5,307.5C334.3,307.7 335.1,310.4 336.0,310.6C336.9,310.8 338.1,309.1 339.1,308.8C340.2,308.4 341.2,308.3 342.2,308.8C343.3,309.2 344.4,311.0 345.4,311.2C346.3,311.5 347.0,310.6 347.9,310.0C348.7,309.4 349.5,308.1 350.4,307.5C351.2,306.9 352.1,305.8 352.9,306.2C353.6,306.7 354.1,308.9 354.8,310.0C355.4,311.1 355.9,312.8 356.6,313.1C357.4,313.4 358.2,312.2 359.1,311.9C360.1,311.6 361.3,311.1 362.2,311.2C363.2,311.4 363.8,312.2 364.8,312.5C365.7,312.8 366.8,312.9 367.9,313.1C368.9,313.3 370.0,313.4 371.0,313.8C372.0,314.1 373.1,314.9 374.1,315.0C375.2,315.1 376.3,314.8 377.2,314.4C378.2,314.0 378.8,312.7 379.8,312.5C380.7,312.3 381.9,312.5 382.9,313.1C383.8,313.8 384.5,314.9 385.4,316.2C386.2,317.6 387.1,320.0 387.9,321.2C388.6,322.5 388.9,323.8 389.8,323.8C390.6,323.8 391.8,321.9 392.9,321.2C393.9,320.6 395.0,320.7 396.0,320.0C397.0,319.3 398.1,318.1 399.1,316.9C400.2,315.6 401.2,314.1 402.2,312.5C403.3,310.9 404.3,308.8 405.4,307.5C406.4,306.2 407.4,305.5 408.5,305.0C409.6,304.5 411.0,304.6 412.2,304.4C413.5,304.2 414.9,304.0 416.0,303.8C417.1,303.5 418.2,303.3 419.1,303.1C420.1,302.9 421.1,300.9 421.6,302.5C422.2,304.1 421.7,310.4 422.5,312.5C423.3,314.6 425.0,314.8 426.2,315.0C427.5,315.2 429.0,312.1 430.0,313.8C431.0,315.4 431.2,322.9 432.0,325.0C432.8,327.1 433.7,327.5 434.5,326.2C435.3,325.0 436.2,319.0 437.0,317.5C437.8,316.0 438.7,315.8 439.5,317.5C440.3,319.2 441.1,324.7 442.0,327.5C442.9,330.3 444.0,333.7 445.0,334.5C446.0,335.3 447.0,333.5 448.0,332.5C449.0,331.5 450.1,328.5 451.2,328.8C452.4,329.0 453.8,333.3 455.0,333.8C456.2,334.2 457.7,332.7 458.8,331.2C459.8,329.8 460.2,326.2 461.2,325.0C462.3,323.8 463.8,323.3 465.0,323.8C466.2,324.2 467.7,327.1 468.8,327.5C469.8,327.9 470.4,327.5 471.2,326.2C472.1,325.0 472.8,321.9 473.8,320.0C474.7,318.1 476.0,316.7 477.0,315.0C478.0,313.3 479.1,312.3 480.0,310.0C480.9,307.7 481.6,303.1 482.5,301.2C483.4,299.4 484.6,297.7 485.5,298.8C486.4,299.8 487.0,306.1 488.0,307.5C489.0,308.9 490.3,306.2 491.2,307.0C492.2,307.8 492.9,310.8 493.8,312.5C494.6,314.2 495.5,315.4 496.2,317.5C497.0,319.6 497.2,323.1 498.0,325.0C498.8,326.9 500.2,327.9 501.2,328.8C502.3,329.6 503.5,331.2 504.5,330.0C505.5,328.8 506.6,321.5 507.5,321.2C508.4,321.0 509.1,328.3 510.0,328.8C510.9,329.2 512.2,324.8 513.0,323.8C513.8,322.7 514.2,320.6 515.0,322.5C515.8,324.4 516.7,331.6 517.5,335.0C518.3,338.4 519.0,341.5 520.0,343.0C521.0,344.5 522.7,343.8 523.8,343.8C524.8,343.7 525.4,344.4 526.2,342.5C527.1,340.6 527.9,334.0 528.8,332.5C529.6,331.0 530.4,334.2 531.2,333.8C532.1,333.3 533.0,331.2 533.8,330.0C534.5,328.8 534.8,325.8 535.5,326.2C536.2,326.7 537.2,333.1 538.0,332.5C538.8,331.9 539.8,325.4 540.5,322.5C541.2,319.6 541.8,316.2 542.5,315.0C543.2,313.8 544.2,314.2 545.0,315.0C545.8,315.8 546.8,317.7 547.5,320.0C548.2,322.3 548.8,328.8 549.5,328.8C550.2,328.8 551.1,321.2 552.0,320.0C552.9,318.8 554.1,319.2 555.0,321.2C555.9,323.3 556.7,330.4 557.5,332.5C558.3,334.6 559.0,334.0 560.0,333.8C561.0,333.5 562.7,333.5 563.8,331.2C564.8,329.0 565.4,324.0 566.2,320.0C567.1,316.0 568.0,309.9 568.8,307.5C569.5,305.1 569.8,303.8 570.5,305.5C571.2,307.2 572.2,313.6 573.0,317.5C573.8,321.4 574.2,328.3 575.0,328.8C575.8,329.2 576.7,322.7 577.5,320.0C578.3,317.3 579.2,313.3 580.0,312.5C580.8,311.7 581.7,315.0 582.5,315.0C583.3,315.0 584.0,313.8 585.0,312.5C586.0,311.2 587.7,307.7 588.8,307.5C589.8,307.3 590.4,309.2 591.2,311.2C592.1,313.3 592.9,318.5 593.8,320.0C594.6,321.5 595.4,320.4 596.2,320.0C597.1,319.6 597.9,317.3 598.8,317.5C599.6,317.7 600.4,320.8 601.2,321.2C602.1,321.7 602.9,321.0 603.8,320.0C604.6,319.0 605.3,315.4 606.2,315.0C607.2,314.6 608.5,315.2 609.5,317.5C610.5,319.8 611.2,325.0 612.0,328.8C612.8,332.5 613.6,337.5 614.5,340.0C615.4,342.5 616.4,342.9 617.5,343.8C618.6,344.6 620.0,345.6 621.2,345.0C622.5,344.4 624.0,342.9 625.0,340.0C626.0,337.1 626.7,330.8 627.5,327.5C628.3,324.2 629.0,322.1 630.0,320.0C631.0,317.9 632.7,319.2 633.8,315.0C634.8,310.8 635.4,299.6 636.2,295.0C637.1,290.4 638.1,288.8 638.8,287.5C639.4,286.2 639.6,286.7 640.0,287.2C640.4,287.8 640.8,288.7 641.2,291.0C641.7,293.3 642.0,298.4 642.5,301.0C643.0,303.6 643.8,306.2 644.4,306.6C645.0,307.0 645.5,305.1 646.2,303.5C647.0,301.9 648.0,299.3 648.8,297.2C649.5,295.2 650.1,293.5 650.6,291.0C651.1,288.5 651.4,285.6 651.9,282.2C652.4,278.9 653.1,274.5 653.8,271.0C654.4,267.5 655.0,264.1 655.6,261.0C656.2,257.9 657.0,254.8 657.5,252.2C658.0,249.8 658.3,247.6 658.8,246.0C659.2,244.4 659.6,242.9 660.0,242.9C660.4,242.9 660.8,244.5 661.2,246.0C661.7,247.5 662.1,251.0 662.5,251.6C662.9,252.2 663.4,251.3 663.8,249.8C664.1,248.2 664.3,244.7 664.8,242.2C665.2,239.8 665.8,237.4 666.2,235.0C666.8,232.6 667.2,229.5 667.8,228.1C668.3,226.8 668.9,226.4 669.4,226.9C669.9,227.4 670.2,229.5 670.6,231.2C671.0,233.0 671.5,236.0 671.9,237.5C672.2,239.0 672.4,240.8 672.8,240.0C673.1,239.2 673.4,234.9 673.8,232.5C674.1,230.1 674.6,226.9 675.0,225.6C675.4,224.4 675.8,224.5 676.2,225.0C676.7,225.5 677.1,226.9 677.5,228.8C677.9,230.6 678.3,233.2 678.8,236.2C679.2,239.3 679.6,244.3 680.0,247.2C680.4,250.2 680.6,252.8 681.0,254.1C681.4,255.5 681.8,255.3 682.5,255.4C683.2,255.5 684.3,254.3 685.0,254.8C685.7,255.2 686.0,256.5 686.5,257.9C687.0,259.2 687.3,261.5 687.8,262.9C688.2,264.2 688.8,265.1 689.4,266.0C690.0,266.9 690.6,267.6 691.2,268.5C691.9,269.4 692.5,271.0 693.1,271.6C693.8,272.3 694.4,272.6 695.0,272.5C695.6,272.4 696.2,271.9 696.9,271.0C697.5,270.1 698.2,268.2 698.8,267.2C699.3,266.3 699.8,265.4 700.4,265.4C700.9,265.4 701.6,266.6 702.1,267.2C702.7,267.9 703.3,269.3 703.8,269.1C704.2,268.9 704.6,267.8 705.0,266.0C705.4,264.2 705.8,260.0 706.2,258.5C706.7,257.0 707.0,257.1 707.5,257.2C708.0,257.4 708.8,257.9 709.4,259.1C710.0,260.4 710.5,262.8 711.0,264.8C711.5,266.7 712.1,268.3 712.5,271.0C712.9,273.7 713.2,277.2 713.5,281.0C713.8,284.8 714.1,290.2 714.4,293.5C714.7,296.8 715.0,299.6 715.4,301.0C715.8,302.4 716.4,301.8 716.9,301.6C717.4,301.4 718.0,300.9 718.5,299.8C719.0,298.6 719.4,297.2 719.8,294.8C720.1,292.2 720.3,287.7 720.6,284.8C720.9,281.8 721.2,277.9 721.5,277.2C721.8,276.6 722.1,279.5 722.5,281.0C722.9,282.5 723.2,284.8 723.8,286.0C724.3,287.2 725.1,289.1 725.6,288.5C726.1,287.9 726.5,286.2 726.9,282.2C727.2,278.3 727.6,268.5 727.9,264.8C728.2,261.0 728.4,259.8 728.8,259.8C729.1,259.8 729.4,262.5 729.8,264.8C730.1,267.0 730.3,271.3 730.6,273.5C731.0,275.7 731.4,277.0 731.9,277.9C732.4,278.7 733.1,278.3 733.8,278.5C734.4,278.7 735.0,278.7 735.6,279.1C736.2,279.5 737.0,280.3 737.5,281.0C738.0,281.7 738.3,283.3 738.8,283.5C739.2,283.7 739.6,282.2 740.0,282.2C740.4,282.2 740.8,282.5 741.2,283.5C741.7,284.5 742.0,287.2 742.5,288.5C743.0,289.8 743.8,290.8 744.4,291.0C745.0,291.2 745.6,289.8 746.2,289.8C746.9,289.8 747.5,291.0 748.1,291.0C748.8,291.0 749.4,290.6 750.0,289.8C750.6,288.9 751.2,286.9 751.9,286.0C752.5,285.1 753.1,284.1 753.8,284.1C754.4,284.1 755.1,285.5 755.6,286.0C756.1,286.5 756.6,289.3 756.9,287.2C757.2,285.2 757.3,278.9 757.5,273.5C757.7,268.1 758.0,260.0 758.1,254.8C758.3,249.5 758.4,245.8 758.5,242.2C758.6,238.8 758.7,236.4 759.0,233.8C759.3,231.1 759.8,227.8 760.2,226.2C760.7,224.7 761.4,224.4 761.9,224.4C762.4,224.4 762.7,224.9 763.1,226.2C763.5,227.6 764.0,230.8 764.4,232.5C764.8,234.2 765.2,236.2 765.6,236.2C766.0,236.2 766.5,233.3 766.9,232.5C767.3,231.7 767.3,231.2 768.0,231.2C768.7,231.2 770.0,233.1 771.0,232.5C772.0,231.9 773.1,228.5 774.0,227.5C774.9,226.5 775.5,226.0 776.5,226.2C777.5,226.5 778.7,229.6 779.8,228.8C780.8,227.9 781.9,222.9 783.0,221.2C784.1,219.6 785.5,218.8 786.5,218.8C787.5,218.8 788.2,219.8 789.0,221.2C789.8,222.7 790.8,226.0 791.5,227.5C792.2,229.0 792.9,231.7 793.5,230.0C794.1,228.3 794.6,220.4 795.2,217.5C795.9,214.6 796.5,212.1 797.2,212.5C798.0,212.9 798.9,218.3 799.8,220.0C800.6,221.7 801.3,221.5 802.2,222.5C803.2,223.5 804.5,225.9 805.5,226.2C806.5,226.6 807.6,223.9 808.5,224.5C809.4,225.1 810.0,228.5 811.0,230.0C812.0,231.5 813.6,233.1 814.8,233.8C815.9,234.4 817.0,235.0 818.0,233.8C819.0,232.5 820.1,226.2 821.0,226.2C821.9,226.2 822.6,231.2 823.5,233.8C824.4,236.2 825.5,240.2 826.5,241.2C827.5,242.3 828.7,240.8 829.8,240.0C830.8,239.2 832.0,237.9 833.0,236.2C834.0,234.6 835.2,231.2 836.0,230.0C836.8,228.8 837.2,226.7 837.8,228.8C838.2,230.8 838.6,238.1 839.0,242.5C839.4,246.9 839.6,252.7 840.2,255.0C840.9,257.3 842.1,254.6 842.8,256.2C843.4,257.9 843.5,262.1 844.0,265.0C844.5,267.9 845.1,272.4 846.0,273.8C846.9,275.1 848.4,274.9 849.2,273.0C850.1,271.1 850.3,264.5 851.0,262.5C851.7,260.5 852.7,260.8 853.5,261.2C854.3,261.7 855.2,264.6 856.0,265.0C856.8,265.4 857.6,264.2 858.5,263.8C859.4,263.3 860.7,262.1 861.5,262.5C862.3,262.9 862.9,264.6 863.5,266.2C864.1,267.9 864.6,272.7 865.2,272.5C865.9,272.3 866.5,266.0 867.2,265.0C868.0,264.0 868.9,266.5 869.8,266.2C870.6,266.0 871.4,264.4 872.2,263.8C873.1,263.1 873.8,262.4 874.8,262.5C875.7,262.6 877.0,264.8 878.0,264.5C879.0,264.2 879.6,261.2 880.5,260.5C881.4,259.8 882.5,259.8 883.5,260.5C884.5,261.2 885.5,263.6 886.5,265.0C887.5,266.4 888.8,267.4 889.8,268.8C890.7,270.1 891.3,273.2 892.2,273.0C893.2,272.8 894.5,269.0 895.5,267.5C896.5,266.0 897.5,264.6 898.5,263.8C899.5,262.9 900.7,261.5 901.8,262.5C902.8,263.5 903.8,269.8 904.8,270.0C905.7,270.2 906.3,265.8 907.2,263.8C908.2,261.7 909.5,258.5 910.5,257.5C911.5,256.5 912.5,256.5 913.5,257.5C914.5,258.5 915.6,261.7 916.8,263.8C917.9,265.8 919.4,269.6 920.5,270.0C921.6,270.4 922.4,267.3 923.5,266.2C924.6,265.2 926.1,264.2 927.2,263.8C928.4,263.3 930.0,263.8 930.5,263.8"/>
<path stroke="#0033ff" d="M51.5,297.5C51.9,298.5 53.2,300.8 54.0,303.8C54.8,306.7 55.8,313.2 56.5,315.0C57.2,316.8 57.8,315.1 58.4,314.4C59.0,313.6 59.6,310.8 60.2,310.6C60.9,310.4 61.5,312.2 62.1,313.1C62.8,314.1 63.3,316.2 64.0,316.2C64.7,316.2 65.7,313.5 66.5,313.1C67.3,312.7 68.3,313.5 69.0,313.8C69.7,314.0 70.1,314.6 70.9,314.4C71.6,314.2 72.4,312.4 73.4,312.5C74.3,312.6 75.5,314.0 76.5,315.0C77.5,316.0 78.6,318.0 79.6,318.8C80.7,319.5 81.7,319.6 82.8,319.4C83.8,319.2 84.9,317.2 85.9,317.5C86.8,317.8 87.4,320.9 88.4,321.2C89.3,321.6 90.7,319.0 91.5,319.4C92.3,319.8 92.6,322.0 93.4,323.8C94.1,325.5 95.0,328.6 95.9,330.0C96.7,331.4 97.5,332.1 98.4,331.9C99.2,331.7 100.0,330.9 100.9,328.8C101.7,326.6 102.6,322.1 103.4,318.8C104.1,315.4 104.6,311.4 105.2,308.8C105.9,306.1 106.8,303.5 107.4,303.1C108.0,302.7 108.3,304.3 109.0,306.2C109.7,308.2 110.8,312.5 111.5,315.0C112.2,317.5 112.8,321.0 113.4,321.2C114.0,321.5 114.7,318.3 115.2,316.2C115.8,314.2 115.9,310.5 116.5,308.8C117.1,307.0 118.0,305.4 118.6,305.6C119.2,305.8 119.7,307.2 120.2,310.0C120.8,312.8 121.6,319.8 122.1,322.5C122.6,325.2 123.0,326.5 123.4,326.2C123.8,326.0 124.1,324.6 124.6,321.2C125.1,317.9 126.0,310.2 126.5,306.2C127.0,302.3 127.3,299.4 127.8,297.5C128.2,295.6 128.4,295.3 129.0,295.0C129.6,294.7 130.8,295.2 131.5,295.6C132.2,296.0 132.8,297.7 133.4,297.5C134.0,297.3 134.5,295.0 135.2,294.4C136.0,293.8 136.9,293.3 137.8,293.8C138.6,294.2 139.4,296.0 140.2,296.9C141.1,297.7 142.0,298.9 142.8,298.8C143.5,298.6 144.0,296.2 144.6,296.2C145.2,296.2 146.1,297.5 146.5,298.8C146.9,300.0 146.5,302.6 147.1,303.8C147.8,304.9 149.1,305.5 150.2,305.6C151.4,305.7 152.9,304.8 154.0,304.4C155.1,304.0 156.3,302.8 157.1,303.1C158.0,303.4 158.4,305.3 159.0,306.2C159.6,307.2 160.0,308.3 160.9,308.8C161.7,309.2 163.2,309.8 164.0,308.8C164.8,307.7 165.4,304.8 165.9,302.5C166.4,300.2 166.6,297.1 167.1,295.0C167.6,292.9 168.2,292.7 169.0,290.0C169.8,287.3 171.1,282.1 172.0,279.0C172.9,275.9 173.7,274.2 174.5,271.5C175.3,268.8 176.3,264.5 177.0,262.8C177.7,261.0 178.1,260.7 178.9,260.9C179.6,261.1 180.5,264.0 181.4,264.0C182.2,264.0 182.8,261.5 183.9,260.9C184.9,260.2 186.6,261.3 187.6,260.2C188.7,259.2 189.3,255.7 190.1,254.6C191.0,253.6 191.8,253.8 192.6,254.0C193.5,254.2 194.3,254.9 195.1,255.9C196.0,256.8 196.7,258.6 197.6,259.6C198.6,260.7 200.0,263.1 200.8,262.1C201.5,261.2 201.6,256.9 202.0,254.0C202.4,251.1 202.5,247.1 203.2,244.6C204.0,242.1 205.3,240.7 206.4,239.0C207.4,237.3 208.7,234.4 209.5,234.6C210.3,234.8 211.0,238.0 211.4,240.2C211.8,242.5 211.6,246.7 212.0,248.4C212.4,250.0 213.2,250.8 213.9,250.2C214.5,249.7 215.2,248.0 215.8,245.2C216.3,242.5 216.6,237.5 217.0,234.0C217.4,230.5 217.8,226.5 218.2,224.0C218.7,221.5 218.9,219.4 219.5,218.8C220.1,218.1 221.1,219.0 222.0,220.0C222.9,221.0 224.0,224.7 225.0,224.5C226.0,224.3 227.2,219.9 228.2,218.8C229.3,217.6 230.7,219.0 231.5,217.5C232.3,216.0 232.5,213.8 233.2,210.0C234.0,206.2 234.9,199.0 235.8,195.0C236.6,191.0 237.2,188.2 238.2,186.2C239.3,184.2 240.8,183.4 242.0,183.0C243.2,182.6 244.5,183.8 245.8,183.8C247.0,183.7 248.4,183.6 249.5,182.5C250.6,181.4 251.5,176.9 252.5,177.0C253.5,177.1 254.8,183.5 255.8,183.0C256.7,182.5 257.2,175.9 258.2,173.8C259.3,171.6 260.8,171.8 262.0,170.0C263.2,168.2 264.4,163.0 265.2,163.0C266.1,163.0 266.5,167.9 267.0,170.0C267.5,172.1 267.4,174.6 268.2,175.5C269.1,176.4 271.0,177.5 272.0,175.5C273.0,173.5 273.6,164.3 274.5,163.8C275.4,163.2 276.5,171.0 277.5,172.0C278.5,173.0 279.8,169.7 280.8,169.5C281.7,169.3 282.2,171.1 283.2,170.8C284.3,170.4 285.8,168.5 287.0,167.5C288.2,166.5 289.1,163.7 290.2,165.0C291.4,166.3 292.6,174.9 293.8,175.5C294.9,176.1 296.0,170.1 297.0,168.8C298.0,167.4 299.1,168.5 300.0,167.5C300.9,166.5 301.5,162.8 302.5,162.5C303.5,162.2 304.6,165.4 305.8,165.8C306.9,166.1 307.8,165.2 309.5,164.5C311.2,163.8 314.3,161.2 315.8,161.2C317.2,161.3 317.3,163.3 318.2,165.0C319.2,166.7 320.1,169.7 321.2,171.2C322.4,172.8 323.6,174.3 325.0,174.5C326.4,174.7 328.3,172.0 329.5,172.5C330.7,173.0 331.2,174.8 332.0,177.5C332.8,180.2 333.2,188.1 334.0,188.8C334.8,189.4 336.0,181.7 337.0,181.2C338.0,180.8 339.0,184.0 340.0,186.2C341.0,188.5 342.1,192.0 343.2,195.0C344.4,198.0 345.9,202.6 347.0,204.5C348.1,206.4 349.2,208.2 350.0,206.2C350.8,204.2 351.3,197.1 352.0,192.5C352.7,187.9 353.2,181.5 354.0,178.8C354.8,176.0 356.0,176.5 357.0,176.2C358.0,176.0 358.8,178.4 360.0,177.0C361.2,175.6 363.1,169.4 364.5,168.0C365.9,166.6 367.2,169.9 368.2,168.8C369.3,167.6 369.7,162.5 370.8,161.2C371.8,160.0 373.5,158.8 374.5,161.2C375.5,163.8 376.1,174.2 377.0,176.2C377.9,178.3 378.9,172.6 380.0,173.8C381.1,174.9 382.8,182.8 383.8,183.0C384.7,183.2 385.0,178.8 385.8,175.0C386.5,171.2 387.5,163.8 388.2,160.0C389.0,156.2 389.4,151.0 390.0,152.0C390.6,153.0 391.5,162.8 392.0,166.2C392.5,169.8 392.6,173.4 393.2,173.0C393.9,172.6 394.9,165.9 395.8,163.8C396.6,161.6 397.2,160.1 398.2,160.0C399.3,159.9 400.8,163.9 402.0,163.2C403.2,162.6 404.7,157.8 405.8,156.2C406.8,154.7 407.3,155.6 408.2,153.8C409.2,151.9 410.2,147.1 411.2,145.0C412.3,142.9 413.4,143.0 414.5,141.2C415.6,139.5 416.8,133.5 417.8,134.5C418.7,135.5 419.0,144.5 420.0,147.5C421.0,150.5 422.6,151.2 423.8,152.5C424.9,153.8 426.0,156.8 427.0,155.5C428.0,154.2 428.9,149.2 430.0,145.0C431.1,140.8 432.6,133.9 433.8,130.0C434.9,126.1 435.8,120.4 436.8,121.8C437.7,123.1 438.3,136.4 439.5,138.0C440.7,139.6 442.2,132.7 443.8,131.2C445.3,129.8 447.4,128.9 448.8,129.5C450.1,130.1 451.0,132.8 452.0,135.0C453.0,137.2 454.0,142.0 455.0,143.0C456.0,144.0 457.2,139.9 458.2,141.2C459.3,142.6 460.2,147.9 461.2,151.2C462.3,154.6 463.5,160.6 464.5,161.2C465.5,161.9 466.4,157.7 467.5,155.0C468.6,152.3 470.2,143.3 471.2,145.0C472.3,146.7 472.8,157.4 473.8,165.0C474.7,172.6 475.8,188.8 476.8,190.5C477.7,192.2 478.3,178.0 479.2,175.0C480.2,172.0 481.3,174.0 482.5,172.5C483.7,171.0 485.1,168.8 486.2,166.2C487.4,163.8 488.5,161.2 489.5,157.5C490.5,153.8 491.6,145.4 492.5,143.8C493.4,142.1 494.2,143.1 495.0,147.5C495.8,151.9 496.4,164.9 497.0,170.0C497.6,175.1 498.0,177.5 498.8,178.0C499.5,178.5 500.4,172.2 501.2,173.0C502.1,173.8 503.0,178.8 503.8,182.5C504.5,186.2 504.9,190.8 505.5,195.0C506.1,199.2 506.8,206.5 507.5,207.5C508.2,208.5 508.9,202.8 509.5,201.2C510.1,199.7 510.7,196.5 511.2,198.0C511.8,199.5 512.4,205.5 513.0,210.0C513.6,214.5 514.3,220.0 515.0,225.0C515.7,230.0 516.2,238.5 517.0,240.0C517.8,241.5 519.1,234.2 520.0,233.8C520.9,233.3 521.7,234.0 522.5,237.5C523.3,241.0 524.2,250.0 525.0,255.0C525.8,260.0 526.4,262.7 527.0,267.5C527.6,272.3 528.0,280.0 528.8,283.8C529.5,287.5 530.4,289.2 531.2,290.0C532.1,290.8 532.9,291.2 533.8,288.8C534.6,286.2 535.4,277.9 536.2,275.0C537.1,272.1 537.9,270.8 538.8,271.2C539.6,271.7 540.4,275.0 541.2,277.5C542.1,280.0 542.9,286.5 543.8,286.2C544.6,286.0 545.4,279.0 546.2,276.2C547.1,273.5 547.8,270.4 548.8,270.0C549.7,269.6 551.0,274.6 552.0,273.8C553.0,272.9 554.1,267.7 555.0,265.0C555.9,262.3 556.8,257.3 557.5,257.5C558.2,257.7 558.9,263.5 559.5,266.2C560.1,269.0 560.5,274.4 561.2,273.8C562.0,273.1 562.9,265.8 563.8,262.5C564.6,259.2 565.4,255.4 566.2,253.8C567.1,252.1 567.9,251.9 568.8,252.5C569.6,253.1 570.4,255.4 571.2,257.5C572.1,259.6 572.9,265.4 573.8,265.0C574.6,264.6 575.5,259.2 576.2,255.0C577.0,250.8 577.6,242.9 578.0,240.0C578.4,237.1 578.2,236.7 578.8,237.5C579.3,238.3 580.4,245.2 581.2,245.0C582.1,244.8 582.8,237.9 583.8,236.2C584.7,234.6 586.0,233.5 587.0,235.0C588.0,236.5 588.9,241.7 590.0,245.0C591.1,248.3 593.1,253.1 593.8,255.0C594.0,256.9 593.8,252.5 594.0,256.2C594.2,260.0 595.0,270.0 595.5,277.5C596.0,285.0 596.5,297.9 597.0,301.2C597.5,304.6 598.2,299.6 598.8,297.5C599.3,295.4 600.0,287.5 600.5,288.8C601.0,290.0 601.5,300.2 602.0,305.0C602.5,309.8 603.2,315.8 603.8,317.5C604.3,319.2 605.0,316.0 605.5,315.0C606.0,314.0 606.5,309.6 607.0,311.2C607.5,312.9 608.2,322.1 608.8,325.0C609.3,327.9 610.0,329.6 610.5,328.8C611.0,327.9 611.5,324.0 612.0,320.0C612.5,316.0 613.0,310.0 613.8,305.0C614.5,300.0 615.5,295.8 616.2,290.0C617.0,284.2 617.4,274.8 618.0,270.0C618.6,265.2 619.3,260.8 620.0,261.2C620.7,261.7 621.4,268.8 622.0,272.5C622.6,276.2 623.2,283.3 623.8,283.8C624.3,284.2 624.9,278.3 625.5,275.0C626.1,271.7 626.8,266.2 627.5,263.8C628.2,261.2 629.2,261.5 630.0,260.0C630.8,258.5 631.8,255.4 632.5,255.0C633.2,254.6 633.8,255.8 634.5,257.5C635.2,259.2 636.2,262.7 637.0,265.0C637.8,267.3 638.6,270.4 639.5,271.2C640.4,272.1 641.6,270.9 642.5,270.4C643.4,269.8 644.3,268.6 645.0,267.9C645.7,267.1 646.4,267.4 646.9,266.0C647.4,264.6 647.7,261.9 648.1,259.8C648.5,257.6 649.0,254.3 649.4,252.9C649.8,251.4 650.1,251.1 650.6,251.0C651.1,250.9 651.9,252.0 652.5,252.2C653.1,252.5 653.8,253.0 654.4,252.2C655.0,251.5 655.5,249.1 656.0,247.9C656.5,246.6 656.9,244.2 657.2,244.8C657.6,245.3 657.9,247.2 658.1,251.0C658.4,254.8 658.5,262.9 658.8,267.2C659.0,271.6 659.1,275.1 659.4,277.2C659.7,279.4 660.1,280.4 660.6,280.4C661.1,280.4 661.7,279.0 662.2,277.2C662.8,275.5 663.3,272.9 663.8,269.8C664.2,266.6 664.6,261.4 665.0,258.5C665.4,255.6 665.7,253.1 666.0,252.2C666.3,251.4 666.6,251.6 666.9,253.5C667.1,255.4 667.2,259.8 667.5,263.5C667.8,267.2 668.1,272.5 668.5,276.0C668.9,279.5 669.3,282.7 669.8,284.8C670.2,286.8 670.8,286.4 671.2,288.5C671.8,290.6 672.3,294.3 672.8,297.2C673.2,300.2 673.5,303.5 673.8,306.0C674.0,308.5 673.8,308.3 674.0,312.5C674.2,316.7 674.6,324.6 675.0,331.2C675.4,337.9 675.8,346.0 676.2,352.5C676.7,359.0 677.2,365.7 677.5,370.0C677.8,374.3 677.8,375.7 678.1,378.5C678.4,381.3 678.8,385.1 679.4,386.6C680.0,388.2 681.2,388.8 681.9,387.9C682.5,386.9 682.8,385.2 683.1,381.0C683.5,376.8 683.7,366.0 684.0,362.5C684.3,359.0 684.5,359.6 684.8,360.0C685.0,360.4 685.4,360.9 685.6,365.0C685.9,369.1 685.9,379.7 686.2,384.8C686.6,389.8 687.3,394.8 687.8,395.4C688.2,396.0 688.6,391.1 689.0,388.5C689.4,385.9 689.8,382.1 690.2,379.8C690.7,377.4 691.2,375.5 691.9,374.1C692.6,372.7 693.6,371.1 694.4,371.2C695.1,371.4 695.7,373.8 696.2,374.8C696.8,375.8 697.1,377.9 697.5,377.2C697.9,376.6 698.4,374.5 698.8,371.0C699.1,367.5 699.1,360.2 699.4,356.2C699.7,352.3 700.2,347.9 700.6,347.5C701.0,347.1 701.5,350.6 701.9,353.8C702.2,356.9 702.6,361.1 702.9,366.2C703.1,371.4 703.2,378.8 703.5,384.8C703.8,390.8 704.0,398.4 704.4,402.2C704.8,406.1 705.4,407.1 706.0,407.9C706.6,408.6 707.5,407.0 708.1,406.6C708.8,406.2 709.3,405.3 710.0,405.4C710.7,405.4 711.8,407.5 712.5,407.0C713.2,406.5 713.5,404.6 714.0,402.2C714.5,399.9 714.7,394.8 715.2,392.9C715.8,391.0 716.9,391.4 717.5,391.0C718.1,390.6 718.6,392.5 719.0,390.4C719.4,388.3 719.5,385.2 719.8,378.5C720.0,371.8 720.4,358.9 720.6,350.0C720.9,341.1 721.0,332.3 721.2,325.0C721.5,317.7 721.7,309.8 721.9,306.2C722.1,302.7 722.3,301.7 722.5,303.8C722.7,305.8 722.9,312.1 723.1,318.8C723.3,325.4 723.5,336.0 723.8,343.8C724.0,351.5 724.4,360.7 724.8,365.0C725.1,369.3 725.3,369.8 725.6,369.4C725.9,369.0 726.2,366.8 726.5,362.5C726.8,358.2 727.0,351.0 727.2,343.8C727.5,336.5 727.7,327.3 727.9,318.8C728.0,310.2 728.1,298.1 728.2,292.2C728.4,286.4 728.5,284.1 728.8,283.5C729.0,282.9 729.4,286.0 729.8,288.5C730.1,291.0 730.4,295.1 730.6,298.5C730.9,301.9 731.0,306.8 731.2,308.8C731.5,310.7 731.9,311.0 732.2,310.0C732.6,309.0 732.9,305.5 733.1,302.5C733.4,299.5 733.5,295.0 733.8,292.2C734.0,289.5 734.1,286.0 734.4,286.0C734.6,286.0 734.9,290.4 735.2,292.2C735.6,294.1 735.9,297.9 736.2,297.2C736.6,296.6 736.9,291.4 737.2,288.5C737.6,285.6 737.8,282.2 738.1,279.8C738.5,277.2 739.0,274.9 739.4,273.5C739.8,272.1 740.0,272.0 740.6,271.6C741.2,271.3 742.4,271.3 743.1,271.4C743.8,271.5 744.3,270.9 744.8,272.2C745.2,273.6 745.4,276.6 745.6,279.8C745.9,282.9 745.9,287.5 746.2,291.0C746.6,294.5 747.2,298.2 747.5,301.0C747.8,303.8 747.7,305.0 748.1,307.5C748.5,310.0 749.4,313.8 750.0,316.2C750.6,318.8 751.2,320.6 751.9,322.5C752.5,324.4 753.2,325.0 753.8,327.5C754.3,330.0 754.6,334.3 755.0,337.5C755.4,340.7 755.7,345.2 756.0,346.9C756.3,348.5 756.6,349.1 756.9,347.5C757.2,345.9 757.4,341.2 757.8,337.5C758.1,333.8 758.4,327.5 758.8,325.0C759.1,322.5 759.5,322.5 760.0,322.5C760.5,322.5 761.2,323.8 761.9,325.0C762.5,326.2 763.2,327.9 763.8,330.0C764.3,332.1 764.6,336.5 765.0,337.5C765.4,338.5 765.8,338.3 766.2,336.2C766.7,334.2 767.1,329.0 767.5,325.0C767.9,321.0 767.7,313.1 768.5,312.5C769.3,311.9 771.0,319.2 772.2,321.2C773.5,323.3 775.0,323.8 776.0,325.0C777.0,326.2 777.4,329.6 778.0,328.8C778.6,327.9 779.0,322.9 779.5,320.0C780.0,317.1 780.3,312.3 781.0,311.2C781.7,310.2 782.6,314.0 783.5,313.8C784.4,313.5 785.5,309.9 786.5,309.5C787.5,309.1 788.7,310.8 789.8,311.2C790.8,311.8 792.0,312.8 793.0,312.5C794.0,312.2 795.1,308.6 796.0,309.2C796.9,309.9 797.7,313.8 798.5,316.2C799.3,318.7 800.4,321.9 801.0,323.8C801.6,325.6 801.8,328.1 802.2,327.5C802.7,326.9 802.9,321.7 803.5,320.0C804.1,318.3 805.2,316.9 806.0,317.5C806.8,318.1 807.5,321.5 808.5,323.8C809.5,326.0 811.2,332.5 812.2,331.2C813.3,330.0 813.7,314.8 814.8,316.2C815.8,317.7 817.5,334.0 818.5,340.0C819.5,346.0 820.2,352.1 821.0,352.5C821.8,352.9 822.7,342.7 823.5,342.5C824.3,342.3 825.0,348.5 826.0,351.2C827.0,354.0 828.5,358.5 829.8,358.8C831.0,359.0 832.5,356.0 833.5,352.5C834.5,349.0 835.2,344.4 836.0,337.5C836.8,330.6 837.5,315.6 838.5,311.2C839.5,306.9 841.1,311.7 842.2,311.2C843.4,310.8 844.7,309.8 845.5,308.8C846.3,307.7 846.5,304.2 847.2,305.0C848.0,305.8 848.9,313.5 849.8,313.8C850.6,314.0 851.4,306.2 852.2,306.2C853.1,306.2 854.0,312.1 854.8,313.8C855.5,315.4 855.7,316.9 856.5,316.2C857.3,315.6 858.8,310.0 859.8,310.0C860.7,310.0 861.4,314.0 862.2,316.2C863.1,318.5 863.9,323.3 864.8,323.8C865.6,324.2 866.2,317.5 867.2,318.8C868.3,320.0 870.0,329.8 871.0,331.2C872.0,332.7 872.7,329.8 873.5,327.5C874.3,325.2 875.2,320.8 876.0,317.5C876.8,314.2 877.8,309.7 878.5,307.5C879.2,305.3 879.8,303.2 880.5,304.5C881.2,305.8 882.4,311.8 883.0,315.0C883.6,318.2 883.8,324.2 884.2,323.8C884.8,323.3 885.3,315.0 886.0,312.5C886.7,310.0 887.6,309.2 888.5,308.8C889.4,308.3 890.5,310.2 891.5,310.0C892.5,309.8 893.6,308.1 894.8,307.5C895.9,306.9 897.5,307.5 898.5,306.2C899.5,305.0 900.2,302.7 901.0,300.0C901.8,297.3 902.7,292.9 903.5,290.0C904.3,287.1 905.2,284.2 906.0,282.5C906.8,280.8 907.8,279.0 908.5,280.0C909.2,281.0 909.7,287.1 910.5,288.8C911.3,290.4 912.4,289.6 913.5,290.0C914.6,290.4 916.3,289.6 917.2,291.2C918.2,292.9 918.4,296.5 919.0,300.0C919.6,303.5 920.2,308.5 921.0,312.5C921.8,316.5 922.9,321.0 923.5,323.8C924.1,326.5 924.1,327.1 924.8,328.8C925.4,330.4 926.4,334.0 927.2,333.8C928.1,333.5 929.2,329.3 929.8,327.5C930.3,325.7 930.4,323.8 930.5,323.0"/>
<path stroke="#ff9900" d="M51.5,297.5C51.7,296.2 52.4,292.0 52.8,290.0C53.2,288.0 53.5,285.4 54.0,285.2C54.5,285.1 54.9,287.2 55.5,289.0C56.1,290.8 56.8,294.1 57.5,296.0C58.2,297.9 58.9,299.5 59.5,300.5C60.1,301.5 60.4,302.3 60.9,301.9C61.4,301.5 61.9,300.6 62.5,298.0C63.1,295.4 63.9,289.0 64.6,286.5C65.4,284.0 66.3,283.8 67.1,282.8C68.0,281.7 68.9,280.2 69.6,280.2C70.4,280.2 70.9,281.7 71.5,282.8C72.1,283.8 72.6,286.9 73.4,286.5C74.1,286.1 75.1,281.2 75.9,280.2C76.6,279.3 77.1,280.7 77.8,280.9C78.4,281.1 78.8,282.2 79.6,281.5C80.5,280.8 81.7,277.6 82.8,276.5C83.8,275.4 85.0,274.4 85.9,274.6C86.7,274.8 87.2,277.9 87.8,277.8C88.3,277.6 88.7,275.5 89.0,274.0C89.3,272.5 89.3,270.7 89.6,269.0C89.9,267.3 90.5,265.1 90.9,264.0C91.2,262.9 91.4,262.0 91.8,262.1C92.1,262.2 92.6,263.7 93.0,264.6C93.4,265.6 93.4,266.6 94.0,267.8C94.6,268.9 95.7,270.5 96.5,271.5C97.3,272.5 98.0,273.1 99.0,274.0C100.0,274.9 101.1,276.3 102.8,277.1C104.4,278.0 106.9,279.0 109.0,279.0C111.1,279.0 113.2,277.2 115.2,277.1C117.3,277.0 119.7,277.8 121.5,278.4C123.3,279.0 124.6,280.8 125.9,280.9C127.1,281.0 128.1,278.7 129.0,279.0C129.9,279.3 130.2,282.0 131.5,282.8C132.8,283.5 135.2,282.8 136.5,283.4C137.8,284.0 138.0,286.2 139.0,286.5C140.0,286.8 141.5,284.8 142.8,285.2C144.0,285.7 145.2,288.2 146.5,289.0C147.8,289.8 149.0,290.0 150.2,290.2C151.5,290.5 152.8,290.9 154.0,290.2C155.2,289.6 156.7,288.4 157.8,286.5C158.8,284.6 159.4,279.4 160.2,279.0C161.1,278.6 162.2,281.5 162.8,284.0C163.3,286.5 163.3,291.5 163.8,293.8C164.2,296.0 164.7,295.4 165.2,297.5C165.8,299.6 166.5,303.5 167.1,306.2C167.8,309.0 168.2,312.5 169.0,313.8C169.8,315.0 171.1,313.5 172.0,313.8C172.9,314.0 173.5,314.0 174.5,315.0C175.5,316.0 177.2,319.6 178.2,320.0C179.3,320.4 179.9,319.0 180.8,317.5C181.6,316.0 182.4,312.4 183.2,311.2C184.1,310.1 184.9,310.3 185.8,310.6C186.6,310.9 187.4,312.2 188.2,313.1C189.1,314.1 189.8,314.3 190.8,316.2C191.7,318.2 192.9,324.4 193.9,325.0C194.8,325.6 195.5,322.4 196.4,320.0C197.2,317.6 198.1,312.1 198.9,310.6C199.6,309.2 200.2,309.5 200.8,311.2C201.3,313.0 201.7,318.1 202.0,321.2C202.3,324.4 202.0,328.1 202.6,330.0C203.2,331.9 204.6,332.0 205.8,332.5C206.9,333.0 208.6,333.3 209.5,333.1C210.4,332.9 211.0,333.2 211.4,331.2C211.8,329.3 211.7,325.0 212.0,321.2C212.3,317.5 212.7,311.4 213.2,308.8C213.8,306.1 214.5,305.2 215.1,305.6C215.8,306.0 216.6,308.0 217.0,311.2C217.4,314.5 217.3,321.4 217.6,325.0C217.9,328.6 218.1,332.2 218.9,333.1C219.6,334.1 220.9,331.1 222.0,330.6C223.1,330.1 224.8,329.1 225.8,330.0C226.7,330.9 227.0,334.4 227.6,336.2C228.2,338.1 228.8,339.9 229.5,341.2C230.2,342.6 231.3,345.0 232.0,344.4C232.7,343.8 233.4,339.0 233.9,337.5C234.4,336.0 234.6,335.6 235.1,335.6C235.6,335.6 236.4,337.0 237.0,337.5C237.6,338.0 238.1,338.8 238.9,338.8C239.6,338.8 240.4,336.9 241.4,337.5C242.3,338.1 243.6,341.0 244.5,342.5C245.4,344.0 246.1,345.8 247.0,346.2C247.9,346.7 249.2,344.6 250.1,345.0C251.1,345.4 251.9,347.9 252.6,348.8C253.4,349.6 253.8,350.8 254.5,350.0C255.2,349.2 256.2,345.4 257.0,343.8C257.8,342.1 258.8,339.8 259.5,340.0C260.2,340.2 260.6,343.9 261.4,345.0C262.1,346.1 262.9,346.9 263.9,346.9C264.8,346.9 266.1,346.5 267.0,345.0C267.9,343.5 268.7,339.5 269.5,338.1C270.3,336.8 271.3,335.9 272.0,336.9C272.7,337.8 273.4,342.0 273.9,343.8C274.4,345.5 274.6,347.9 275.1,347.5C275.6,347.1 276.1,342.2 277.0,341.2C277.9,340.3 279.7,342.2 280.8,341.9C281.8,341.6 282.5,339.3 283.2,339.4C284.0,339.5 284.5,341.1 285.1,342.5C285.8,343.9 286.1,346.6 287.0,347.5C287.9,348.4 289.8,348.5 290.8,348.1C291.7,347.7 292.1,346.5 292.6,345.0C293.1,343.5 293.4,340.2 293.9,339.4C294.4,338.5 295.4,339.7 295.8,340.0C296.0,340.3 295.8,340.8 296.0,341.2C296.7,341.7 298.5,341.5 299.8,342.5C301.0,343.5 302.2,346.5 303.5,347.5C304.8,348.5 306.2,349.2 307.2,348.8C308.3,348.3 308.8,345.0 309.8,345.0C310.7,345.0 312.0,347.5 313.0,348.8C314.0,350.0 314.9,352.5 316.0,352.5C317.1,352.5 318.6,350.2 319.8,348.8C320.9,347.3 322.0,345.0 323.0,343.8C324.0,342.5 324.7,340.8 325.5,341.2C326.3,341.7 327.1,345.0 328.0,346.2C328.9,347.5 330.0,350.0 331.0,348.8C332.0,347.5 333.1,340.2 334.0,338.8C334.9,337.3 335.7,340.0 336.5,340.0C337.3,340.0 338.1,340.6 339.0,338.8C339.9,336.9 340.9,331.9 341.6,329.0C342.4,326.1 342.8,323.4 343.5,321.2C344.2,319.1 345.1,317.1 346.0,316.2C346.9,315.4 348.3,315.4 349.1,316.2C350.0,317.1 350.4,320.1 351.0,321.2C351.6,322.4 352.1,323.5 352.9,323.1C353.6,322.7 354.5,320.1 355.4,318.8C356.2,317.4 357.1,315.4 357.9,315.0C358.6,314.6 359.0,315.4 359.8,316.2C360.5,317.1 361.3,319.9 362.2,320.0C363.2,320.1 364.4,318.0 365.4,316.9C366.3,315.7 367.1,312.8 367.9,313.1C368.6,313.4 369.1,316.6 369.8,318.8C370.4,320.9 371.0,324.4 371.6,326.2C372.2,328.1 372.7,329.6 373.2,330.0C373.8,330.4 374.6,330.8 375.0,328.8C375.4,326.7 375.5,322.1 375.8,317.5C376.0,312.9 376.3,303.6 376.6,301.2C377.0,298.9 377.5,303.0 377.9,303.1C378.3,303.2 378.6,302.7 379.1,301.9C379.6,301.0 380.5,299.1 381.0,298.1C381.5,297.2 381.7,296.8 382.2,296.2C382.8,295.7 383.4,295.8 384.1,295.0C384.9,294.2 386.0,291.8 386.6,291.2C387.2,290.7 387.5,290.0 387.9,291.9C388.3,293.8 388.7,300.3 389.1,302.5C389.5,304.7 390.0,305.8 390.4,305.0C390.8,304.2 391.2,299.3 391.6,297.5C392.0,295.7 392.5,294.2 392.9,294.4C393.3,294.6 393.6,297.0 394.1,298.8C394.6,300.5 395.4,303.2 396.0,305.0C396.6,306.8 397.1,308.8 397.9,309.4C398.6,310.0 399.8,309.9 400.4,308.8C401.0,307.6 401.1,303.6 401.6,302.5C402.1,301.4 402.9,301.6 403.5,301.9C404.1,302.2 404.8,303.2 405.4,304.4C406.0,305.5 406.6,307.6 407.2,308.8C407.9,309.9 408.6,311.2 409.1,311.2C409.6,311.2 409.9,309.6 410.4,308.8C410.9,307.9 411.7,305.4 412.2,306.2C412.8,307.1 413.1,310.6 413.5,313.8C413.9,316.9 414.1,321.9 414.5,325.0C414.9,328.1 415.3,331.0 416.0,332.5C416.7,334.0 417.7,335.0 418.5,333.8C419.3,332.5 420.2,327.3 421.0,325.0C421.8,322.7 422.7,321.2 423.5,320.0C424.3,318.8 425.0,317.5 426.0,317.5C427.0,317.5 428.7,318.3 429.8,320.0C430.8,321.7 431.4,323.8 432.2,327.5C433.1,331.2 433.9,339.0 434.8,342.5C435.6,346.0 436.4,349.2 437.2,348.8C438.1,348.3 438.9,339.8 439.8,340.0C440.6,340.2 441.3,348.1 442.2,350.0C443.2,351.9 444.5,350.0 445.5,351.2C446.5,352.5 447.1,356.7 448.0,357.5C448.9,358.3 450.1,357.7 451.0,356.2C451.9,354.8 452.7,349.2 453.5,348.8C454.3,348.3 455.2,351.7 456.0,353.8C456.8,355.8 457.4,361.9 458.0,361.2C458.6,360.6 458.9,352.3 459.8,350.0C460.6,347.7 462.0,347.3 463.0,347.5C464.0,347.7 464.7,350.2 465.5,351.2C466.3,352.3 467.1,355.0 468.0,353.8C468.9,352.5 470.1,347.3 471.0,343.8C471.9,340.2 472.6,335.4 473.5,332.5C474.4,329.6 475.7,325.8 476.5,326.2C477.3,326.7 477.8,331.7 478.5,335.0C479.2,338.3 480.1,343.8 481.0,346.2C481.9,348.8 483.1,350.2 484.0,350.0C484.9,349.8 485.5,346.7 486.5,345.0C487.5,343.3 488.8,340.0 489.8,340.0C490.7,340.0 491.3,347.1 492.2,345.0C493.2,342.9 494.7,334.6 495.5,327.5C496.3,320.4 496.2,308.3 497.0,302.5C497.8,296.7 499.1,295.4 500.0,292.5C500.9,289.6 501.7,288.8 502.5,285.0C503.3,281.2 504.2,274.2 505.0,270.0C505.8,265.8 506.7,263.3 507.5,260.0C508.3,256.7 509.2,252.9 510.0,250.0C510.8,247.1 511.5,246.2 512.5,242.5C513.5,238.8 515.0,230.8 516.2,227.5C517.5,224.2 518.8,224.2 520.0,222.5C521.2,220.8 522.5,219.8 523.8,217.5C525.0,215.2 526.2,212.3 527.5,208.8C528.8,205.2 530.3,198.8 531.2,196.2C532.2,193.7 532.4,192.2 533.0,193.2C533.6,194.3 534.2,198.5 535.0,202.5C535.8,206.5 536.5,216.0 537.5,217.5C538.5,219.0 540.0,211.5 541.2,211.2C542.5,211.0 543.5,214.8 545.0,216.2C546.5,217.7 548.3,219.8 550.0,220.0C551.7,220.2 553.8,216.2 555.0,217.5C556.2,218.8 556.7,228.8 557.5,227.5C558.3,226.2 559.2,212.5 560.0,210.0C560.8,207.5 561.7,209.8 562.5,212.5C563.3,215.2 564.0,222.8 565.0,226.2C566.0,229.7 567.7,234.0 568.8,233.0C569.8,232.0 570.4,224.7 571.2,220.0C572.1,215.3 572.9,209.2 573.8,205.0C574.6,200.8 575.5,194.2 576.2,195.0C577.0,195.8 577.4,203.3 578.0,210.0C578.6,216.7 579.2,232.3 580.0,235.0C580.8,237.7 581.6,226.7 582.5,226.2C583.4,225.8 584.2,233.3 585.5,232.5C586.8,231.7 588.6,225.4 590.0,221.2C591.4,217.1 592.8,212.7 593.8,207.5C594.7,202.3 595.1,194.8 595.8,190.0C596.4,185.2 596.9,179.4 597.5,178.8C598.1,178.1 599.0,184.0 599.5,186.2C600.0,188.5 599.8,194.4 600.5,192.5C601.2,190.6 602.6,180.0 603.8,175.0C604.9,170.0 606.4,165.7 607.5,162.5C608.6,159.3 609.3,156.9 610.5,155.8C611.7,154.6 613.4,153.4 614.5,155.8C615.6,158.1 616.2,164.8 617.0,170.0C617.8,175.2 618.6,187.2 619.5,187.0C620.4,186.8 621.6,170.1 622.5,168.8C623.4,167.4 624.0,173.5 625.0,178.8C626.0,184.0 627.5,195.0 628.8,200.0C630.0,205.0 631.4,207.5 632.5,208.8C633.6,210.0 634.7,209.6 635.5,207.5C636.3,205.4 636.8,199.0 637.5,196.2C638.2,193.5 639.0,191.7 639.5,191.2C640.0,190.8 640.2,193.5 640.6,193.8C641.0,194.0 641.5,194.4 641.9,192.5C642.3,190.6 642.6,185.2 643.1,182.5C643.6,179.8 644.2,176.7 644.8,176.2C645.3,175.8 645.7,177.9 646.2,180.0C646.8,182.1 647.5,185.6 648.1,188.8C648.8,191.9 649.4,195.8 650.0,198.8C650.6,201.7 651.2,204.0 651.9,206.2C652.5,208.5 653.1,210.2 653.8,212.5C654.4,214.8 655.0,218.4 655.6,220.0C656.2,221.6 656.8,222.9 657.2,221.9C657.7,220.8 658.1,216.2 658.5,213.8C658.9,211.2 659.3,208.1 659.8,206.9C660.2,205.6 660.8,205.7 661.2,206.2C661.8,206.8 662.3,207.1 662.8,210.0C663.2,212.9 663.5,218.1 663.8,223.8C664.0,229.4 664.2,237.8 664.4,244.0C664.5,250.2 664.5,254.0 664.6,261.0C664.8,268.0 665.0,279.3 665.2,286.0C665.5,292.7 665.8,297.5 666.2,301.0C666.7,304.5 667.5,306.1 668.1,307.2C668.8,308.4 669.5,309.3 670.0,307.9C670.5,306.4 670.9,304.2 671.2,298.5C671.6,292.8 671.9,280.8 672.2,273.5C672.6,266.2 672.8,259.8 673.1,254.8C673.5,249.8 673.9,248.2 674.4,243.5C674.9,238.8 675.7,232.7 676.2,226.2C676.8,219.8 677.0,211.9 677.5,205.0C678.0,198.1 678.5,190.0 679.0,185.0C679.5,180.0 679.8,177.1 680.2,175.0C680.7,172.9 681.4,172.1 681.9,172.5C682.4,172.9 682.6,175.0 683.1,177.5C683.6,180.0 684.3,186.5 684.8,187.5C685.2,188.5 685.6,186.2 686.0,183.8C686.4,181.2 686.8,176.7 687.0,172.5C687.2,168.3 687.2,162.0 687.4,158.8C687.5,155.5 687.6,152.7 687.9,153.1C688.1,153.5 688.5,156.6 689.0,161.2C689.5,165.9 690.1,178.3 690.6,181.2C691.1,184.2 691.2,181.9 691.9,178.8C692.5,175.6 693.6,166.5 694.4,162.5C695.1,158.5 695.7,156.5 696.2,155.0C696.8,153.5 697.0,152.9 697.5,153.8C698.0,154.6 698.6,157.1 699.0,160.0C699.4,162.9 699.5,167.9 699.8,171.2C700.0,174.6 700.0,176.7 700.2,180.0C700.5,183.3 700.9,187.5 701.2,191.2C701.6,195.0 702.1,200.1 702.5,202.5C702.9,204.9 703.3,206.9 703.8,205.6C704.2,204.4 704.6,199.7 705.0,195.0C705.4,190.3 705.7,181.0 706.0,177.5C706.3,174.0 706.6,172.9 706.9,173.8C707.2,174.6 707.5,179.0 707.9,182.5C708.2,186.0 708.5,192.4 709.0,195.0C709.5,197.6 710.0,198.0 710.6,198.1C711.2,198.2 711.9,195.7 712.5,195.6C713.1,195.5 713.5,195.7 714.0,197.5C714.5,199.3 714.8,203.5 715.2,206.2C715.7,209.0 716.4,211.5 716.9,213.8C717.4,216.0 717.8,217.5 718.1,220.0C718.5,222.5 718.7,224.8 719.0,228.8C719.3,232.8 719.6,239.6 720.0,244.0C720.4,248.4 720.9,249.5 721.2,255.0C721.6,260.5 721.9,275.0 722.2,277.0C722.6,279.0 722.7,270.9 723.1,267.0C723.5,263.1 724.0,256.2 724.4,253.5C724.8,250.8 725.1,250.6 725.4,251.0C725.7,251.4 725.9,252.2 726.2,256.0C726.6,259.8 726.9,267.5 727.2,273.5C727.6,279.5 727.9,286.2 728.1,292.0C728.4,297.8 728.5,304.2 728.8,308.0C729.0,311.8 729.2,315.3 729.5,315.0C729.8,314.7 730.0,309.8 730.3,306.0C730.5,302.2 730.7,295.5 731.0,292.0C731.3,288.5 731.6,284.8 731.9,284.8C732.2,284.8 732.4,288.5 732.8,292.0C733.1,295.5 733.4,302.1 733.8,306.0C734.1,309.9 734.3,316.6 734.6,315.6C734.9,314.6 735.2,305.6 735.5,300.0C735.8,294.4 736.0,286.2 736.2,282.0C736.5,277.8 736.8,276.2 737.0,274.8C737.2,273.3 737.5,272.7 737.8,273.5C738.0,274.3 738.4,276.6 738.8,279.8C739.1,282.9 739.4,288.3 739.8,292.2C740.1,296.2 740.6,300.5 741.0,303.5C741.4,306.5 741.6,308.5 742.0,310.0C742.4,311.5 742.6,312.1 743.1,312.5C743.6,312.9 744.5,313.5 745.0,312.5C745.5,311.5 745.9,309.0 746.2,306.2C746.6,303.5 746.8,300.6 747.0,296.0C747.2,291.4 747.2,282.0 747.5,278.5C747.8,275.0 748.2,275.5 748.8,274.8C749.3,274.0 750.0,273.7 750.6,274.1C751.2,274.5 751.9,276.2 752.5,277.2C753.1,278.3 753.8,279.6 754.4,280.4C755.0,281.2 755.8,280.7 756.2,282.2C756.7,283.8 756.9,286.4 757.2,289.8C757.6,293.1 757.9,297.4 758.1,302.2C758.4,307.1 758.4,313.1 758.8,318.8C759.1,324.4 759.5,332.5 760.0,336.2C760.5,340.0 761.3,341.0 761.9,341.2C762.5,341.5 763.3,341.2 763.8,337.5C764.2,333.8 764.1,323.6 764.4,318.8C764.7,313.9 765.2,309.1 765.6,308.1C766.0,307.1 766.5,305.9 766.9,312.5C767.3,319.1 767.6,340.0 768.0,347.5C768.4,355.0 768.5,357.9 769.0,357.5C769.5,357.1 770.2,348.2 771.0,345.0C771.8,341.8 772.7,339.3 773.5,338.0C774.3,336.7 775.2,335.8 776.0,337.0C776.8,338.2 777.7,340.3 778.5,345.0C779.3,349.7 780.3,359.4 781.0,365.0C781.7,370.6 781.9,376.0 782.8,378.8C783.6,381.5 785.0,381.7 786.0,381.2C787.0,380.8 788.1,378.3 789.0,376.2C789.9,374.2 790.8,368.3 791.5,368.8C792.2,369.2 792.8,376.5 793.5,378.8C794.2,381.0 795.2,384.0 796.0,382.5C796.8,381.0 797.7,375.0 798.5,370.0C799.3,365.0 800.2,356.7 801.0,352.5C801.8,348.3 802.7,343.3 803.5,345.0C804.3,346.7 805.2,359.0 806.0,362.5C806.8,366.0 807.2,367.9 808.0,366.2C808.8,364.6 809.8,356.2 810.5,352.5C811.2,348.8 811.5,342.9 812.2,343.8C813.0,344.6 814.0,355.4 814.8,357.5C815.5,359.6 815.8,359.5 816.5,356.2C817.2,353.0 818.0,339.9 819.0,338.0C820.0,336.1 821.3,342.8 822.2,345.0C823.2,347.2 823.9,351.9 824.8,351.2C825.6,350.6 826.3,343.5 827.2,341.2C828.2,339.0 829.5,337.7 830.5,337.5C831.5,337.3 832.6,337.1 833.5,340.0C834.4,342.9 835.4,347.9 836.0,355.0C836.6,362.1 836.6,374.6 837.2,382.5C837.9,390.4 838.8,397.9 839.8,402.5C840.7,407.1 842.0,410.8 843.0,410.0C844.0,409.2 845.1,402.1 846.0,397.5C846.9,392.9 847.7,384.2 848.5,382.5C849.3,380.8 850.2,388.1 851.0,387.5C851.8,386.9 852.6,380.4 853.5,378.8C854.4,377.1 855.6,377.3 856.5,377.5C857.4,377.7 858.2,381.7 859.0,380.0C859.8,378.3 860.8,372.9 861.5,367.5C862.2,362.1 862.9,351.2 863.5,347.5C864.1,343.8 864.6,343.8 865.2,345.0C865.9,346.2 866.6,352.1 867.2,355.0C867.9,357.9 868.4,362.5 869.0,362.5C869.6,362.5 870.2,354.6 871.0,355.0C871.8,355.4 872.7,360.4 873.5,365.0C874.3,369.6 875.2,378.1 876.0,382.5C876.8,386.9 877.8,389.4 878.5,391.2C879.2,393.1 879.9,394.8 880.5,393.8C881.1,392.7 881.5,388.3 882.2,385.0C883.0,381.7 883.9,374.6 884.8,373.8C885.6,372.9 886.4,379.6 887.2,380.0C888.1,380.4 888.9,377.5 889.8,376.2C890.6,375.0 891.4,372.3 892.2,372.5C893.1,372.7 893.7,378.1 894.8,377.5C895.8,376.9 897.5,367.1 898.5,368.8C899.5,370.4 900.2,385.2 901.0,387.5C901.8,389.8 902.7,385.4 903.5,382.5C904.3,379.6 905.2,370.6 906.0,370.0C906.8,369.4 907.5,377.1 908.5,378.8C909.5,380.4 911.2,380.6 912.2,380.0C913.3,379.4 913.9,377.9 914.8,375.0C915.6,372.1 916.2,366.5 917.2,362.5C918.3,358.5 919.8,354.6 921.0,351.2C922.2,347.9 923.7,344.6 924.8,342.5C925.8,340.4 926.4,337.1 927.2,338.8C928.1,340.4 929.2,349.0 929.8,352.5C930.3,356.0 930.4,358.8 930.5,360.0"/>
<path stroke="#ff0000" d="M51.5,297.8C52.3,296.7 54.8,292.5 56.5,291.5C58.2,290.5 60.2,290.9 61.5,291.5C62.8,292.1 63.2,293.9 64.0,295.2C64.8,296.6 65.0,299.0 66.5,299.4C68.0,299.8 70.9,297.9 72.8,297.5C74.6,297.1 76.3,297.5 77.8,296.9C79.2,296.2 80.5,294.9 81.5,293.8C82.5,292.6 83.0,292.3 84.0,290.2C85.0,288.2 86.6,284.3 87.8,281.5C88.9,278.7 89.8,274.7 90.9,273.4C91.9,272.0 92.6,273.8 94.0,273.4C95.4,273.0 97.5,270.1 99.0,270.9C100.5,271.6 101.5,276.1 102.8,277.8C104.0,279.4 105.2,280.0 106.5,280.9C107.8,281.7 109.1,283.3 110.2,282.8C111.4,282.2 112.4,279.1 113.4,277.8C114.3,276.4 114.9,274.6 115.9,274.6C116.8,274.6 118.0,277.9 119.0,277.8C120.0,277.6 121.2,273.8 122.1,274.0C123.1,274.2 123.9,277.1 124.6,279.0C125.4,280.9 125.6,284.2 126.5,285.2C127.4,286.3 129.0,285.7 130.2,285.2C131.5,284.8 132.5,283.3 134.0,282.8C135.5,282.2 137.3,282.0 139.0,282.1C140.7,282.2 142.3,283.2 144.0,283.4C145.7,283.6 147.3,283.3 149.0,283.4C150.7,283.5 152.3,283.7 154.0,284.0C155.7,284.3 157.5,285.0 159.0,285.2C160.5,285.5 161.5,284.8 162.8,285.2C164.0,285.7 165.2,286.7 166.5,287.8C167.8,288.8 168.7,290.5 170.2,291.5C171.8,292.5 174.0,292.9 175.8,293.8C177.5,294.6 179.3,295.5 180.8,296.9C182.2,298.2 183.2,301.2 184.5,301.9C185.8,302.5 187.0,300.4 188.2,300.6C189.5,300.8 191.0,302.3 192.0,303.1C193.0,304.0 193.6,305.7 194.5,305.6C195.4,305.5 196.7,303.5 197.6,302.5C198.6,301.5 199.2,299.5 200.1,299.4C201.1,299.3 202.2,301.9 203.2,301.9C204.3,301.9 205.3,299.7 206.4,299.4C207.4,299.1 208.4,300.1 209.5,300.0C210.6,299.9 212.2,298.3 213.2,298.8C214.3,299.2 214.8,302.1 215.8,302.5C216.7,302.9 217.8,302.0 218.9,301.2C219.9,300.5 220.9,298.2 222.0,298.1C223.1,298.0 224.7,300.0 225.8,300.6C226.8,301.2 227.2,302.0 228.2,301.9C229.3,301.8 231.0,299.7 232.0,300.0C233.0,300.3 233.7,303.2 234.5,303.8C235.3,304.3 236.0,303.0 237.0,303.1C238.0,303.2 239.7,304.9 240.8,304.4C241.8,303.9 242.2,300.8 243.2,300.0C244.3,299.2 245.8,299.3 247.0,299.4C248.2,299.5 249.5,300.2 250.8,300.6C252.0,301.0 253.4,301.8 254.5,301.9C255.6,302.0 256.6,301.0 257.6,301.2C258.7,301.5 259.8,302.7 260.8,303.1C261.7,303.5 262.4,303.3 263.2,303.8C264.1,304.2 264.8,305.7 265.8,305.6C266.7,305.5 267.8,304.0 268.9,303.1C269.9,302.3 270.9,300.9 272.0,300.6C273.1,300.3 274.5,301.2 275.8,301.2C277.0,301.2 278.2,300.8 279.5,300.6C280.8,300.4 282.2,300.4 283.2,300.0C284.3,299.6 284.7,298.4 285.8,298.1C286.8,297.9 288.2,298.6 289.5,298.5C290.8,298.4 292.2,297.3 293.2,297.2C294.3,297.2 295.0,297.9 296.0,298.1C297.0,298.4 298.1,299.0 299.1,298.8C300.2,298.5 301.3,297.3 302.2,296.9C303.2,296.5 303.8,296.0 304.8,296.2C305.7,296.5 306.8,297.4 307.9,298.1C308.9,298.9 309.9,300.2 311.0,300.6C312.1,301.0 313.6,301.0 314.8,300.6C315.9,300.2 316.9,299.2 317.9,298.1C318.8,297.1 319.4,294.9 320.4,294.4C321.3,293.9 322.4,295.0 323.5,295.0C324.6,295.0 325.9,294.7 327.2,294.4C328.6,294.1 330.4,293.2 331.6,293.1C332.9,293.0 333.8,293.1 334.8,293.8C335.7,294.4 336.4,296.7 337.2,296.9C338.1,297.1 338.8,295.7 339.8,295.0C340.7,294.3 341.8,293.0 342.9,292.5C343.9,292.0 345.0,291.8 346.0,291.9C347.0,292.0 348.2,292.2 349.1,293.1C350.1,294.1 350.9,296.2 351.6,297.5C352.4,298.8 352.8,299.9 353.5,300.6C354.2,301.4 355.2,302.0 356.0,301.9C356.8,301.8 357.7,300.8 358.5,300.0C359.3,299.2 360.1,297.4 361.0,296.9C361.9,296.4 363.3,296.6 364.1,296.9C365.0,297.2 365.4,297.8 366.0,298.8C366.6,299.7 367.1,302.0 367.9,302.5C368.6,303.0 369.5,302.6 370.4,301.9C371.2,301.1 372.0,298.9 372.9,298.1C373.7,297.4 374.5,297.5 375.4,297.5C376.2,297.5 377.1,297.4 377.9,298.1C378.6,298.9 379.1,301.0 379.8,301.9C380.4,302.7 381.0,303.2 381.6,303.1C382.2,303.0 382.9,301.1 383.5,301.2C384.1,301.4 384.5,302.3 385.0,303.8C385.5,305.2 385.9,308.5 386.6,310.0C387.3,311.5 388.3,312.0 389.1,312.5C390.0,313.0 390.8,313.5 391.6,313.1C392.5,312.7 393.2,310.6 394.1,310.0C395.1,309.4 396.3,309.4 397.2,309.4C398.2,309.4 398.9,309.8 399.8,310.0C400.6,310.2 401.2,310.7 402.2,310.6C403.3,310.5 404.8,309.4 406.0,309.4C407.2,309.4 408.6,309.9 409.8,310.6C410.9,311.4 411.9,312.6 412.9,313.8C413.8,314.9 414.5,316.5 415.4,317.5C416.2,318.5 417.2,320.6 417.9,320.0C418.5,319.4 418.6,315.0 419.1,313.8C419.6,312.5 420.5,312.1 421.0,312.5C421.5,312.9 421.2,315.2 422.2,316.2C423.3,317.3 426.1,317.9 427.5,318.8C428.9,319.6 429.5,321.5 430.5,321.2C431.5,321.0 432.7,318.3 433.8,317.5C434.8,316.7 436.0,315.0 437.0,316.2C438.0,317.5 438.9,323.1 440.0,325.0C441.1,326.9 442.6,326.9 443.8,327.5C444.9,328.1 445.9,329.2 447.0,328.8C448.1,328.3 449.4,325.4 450.5,325.0C451.6,324.6 452.6,325.2 453.8,326.2C454.9,327.3 456.2,329.0 457.5,331.2C458.8,333.5 460.0,338.8 461.2,340.0C462.5,341.2 463.8,338.3 465.0,338.8C466.2,339.2 467.5,341.7 468.8,342.5C470.0,343.3 471.2,344.0 472.5,343.8C473.8,343.5 475.0,342.5 476.2,341.2C477.5,340.0 478.8,337.3 480.0,336.2C481.2,335.2 482.5,335.0 483.8,335.0C485.0,335.0 486.2,335.0 487.5,336.2C488.8,337.5 490.2,340.6 491.2,342.5C492.3,344.4 492.7,346.5 493.8,347.5C494.8,348.5 496.4,348.7 497.5,348.8C498.6,348.8 499.5,347.8 500.5,348.0C501.5,348.2 502.6,349.7 503.8,350.0C504.9,350.3 506.2,350.2 507.5,350.0C508.8,349.8 510.1,349.4 511.2,348.8C512.4,348.1 513.5,346.4 514.5,346.2C515.5,346.1 516.6,348.0 517.5,348.0C518.4,348.0 519.1,345.7 520.0,346.2C520.9,346.8 522.0,351.7 523.0,351.2C524.0,350.8 525.3,346.0 526.2,343.8C527.2,341.5 527.7,338.5 528.8,337.5C529.8,336.5 531.2,337.7 532.5,337.5C533.8,337.3 535.0,336.0 536.2,336.2C537.5,336.5 538.9,338.8 540.0,338.8C541.1,338.8 542.0,336.5 543.0,336.2C544.0,336.0 545.3,336.5 546.2,337.5C547.2,338.5 547.9,342.1 548.8,342.5C549.6,342.9 550.4,339.9 551.2,340.0C552.1,340.1 552.8,343.0 553.8,343.0C554.7,343.0 556.0,340.3 557.0,340.0C558.0,339.7 559.0,341.2 560.0,341.2C561.0,341.3 562.1,340.5 563.0,340.5C563.9,340.5 564.7,339.7 565.5,341.2C566.3,342.8 567.2,347.5 568.0,350.0C568.8,352.5 569.2,355.2 570.0,356.2C570.8,357.3 572.2,355.6 573.0,356.2C573.8,356.9 574.5,358.3 575.0,360.0C575.5,361.7 575.6,366.5 576.2,366.2C576.9,366.0 577.8,360.5 578.8,358.8C579.7,357.0 581.0,356.0 582.0,355.5C583.0,355.0 583.9,355.0 585.0,355.5C586.1,356.0 587.5,357.6 588.8,358.8C590.0,359.9 591.5,361.5 592.5,362.5C593.5,363.5 594.2,365.4 595.0,365.0C595.8,364.6 596.7,359.8 597.5,360.0C598.3,360.2 599.2,366.0 600.0,366.2C600.8,366.5 601.7,362.1 602.5,361.2C603.3,360.4 604.2,360.4 605.0,361.2C605.8,362.1 606.7,364.2 607.5,366.2C608.3,368.3 609.2,371.2 610.0,373.8C610.8,376.3 611.7,378.6 612.4,381.6C613.1,384.6 613.9,389.1 614.4,391.8C614.9,394.5 615.1,396.8 615.5,398.0C615.9,399.2 616.2,399.3 616.5,399.2C616.8,399.1 617.1,398.9 617.5,397.2C617.9,395.6 618.2,392.0 618.7,389.4C619.2,386.8 619.7,383.4 620.2,381.6C620.7,379.8 621.3,379.0 621.8,378.5C622.3,378.0 622.5,378.1 623.0,378.5C623.5,378.9 624.0,380.3 624.5,380.8C625.0,381.3 625.4,381.4 626.0,381.6C626.6,381.8 627.4,381.7 628.0,382.0C628.6,382.3 629.1,382.5 629.6,383.2C630.1,383.9 630.6,385.1 631.2,386.3C631.8,387.5 632.5,388.9 633.1,390.2C633.7,391.5 634.5,392.7 635.0,394.1C635.5,395.5 635.9,397.1 636.2,398.8C636.5,400.5 636.7,403.1 637.0,404.3C637.3,405.5 637.8,405.9 638.2,405.8C638.6,405.7 639.1,404.4 639.4,403.5C639.7,402.6 639.6,400.6 640.0,400.4C640.4,400.2 641.1,401.4 641.9,402.2C642.6,403.1 643.5,405.4 644.4,405.4C645.2,405.4 646.1,402.6 646.9,402.2C647.6,401.9 648.1,403.0 648.8,403.5C649.4,404.0 649.9,405.8 650.6,405.4C651.4,405.0 652.3,401.6 653.1,401.0C654.0,400.4 654.9,401.5 655.6,401.6C656.4,401.7 656.8,402.1 657.5,401.6C658.2,401.1 659.4,398.4 660.0,398.5C660.6,398.6 660.8,400.2 661.2,402.2C661.7,404.3 662.1,409.3 662.5,411.0C662.9,412.7 663.2,413.5 663.5,412.2C663.8,411.0 664.1,407.7 664.4,403.5C664.7,399.3 665.0,391.6 665.4,387.2C665.7,382.9 665.9,379.3 666.5,377.2C667.1,375.2 668.0,375.1 668.8,375.0C669.5,374.9 670.5,375.6 671.2,376.6C672.0,377.6 672.9,379.4 673.5,381.0C674.1,382.6 674.5,384.0 675.0,386.0C675.5,388.0 675.8,390.7 676.2,392.9C676.7,395.1 676.9,397.8 677.5,399.1C678.1,400.4 679.2,400.3 680.0,400.8C680.8,401.2 681.8,401.0 682.5,401.6C683.2,402.3 683.8,403.6 684.4,404.8C685.0,405.9 685.6,407.7 686.2,408.5C686.9,409.3 687.5,410.1 688.1,409.8C688.8,409.4 689.5,407.2 690.0,406.6C690.5,406.0 690.8,405.5 691.2,406.0C691.7,406.5 692.0,408.6 692.5,409.8C693.0,410.9 693.6,412.4 694.4,412.9C695.1,413.4 696.1,413.0 696.9,412.9C697.6,412.8 698.1,413.4 698.8,412.2C699.4,411.1 700.0,408.9 700.6,406.0C701.2,403.1 701.9,398.1 702.5,394.8C703.1,391.4 703.8,388.4 704.4,386.0C705.0,383.6 705.5,381.6 706.2,380.4C707.0,379.1 708.0,378.7 708.8,378.5C709.5,378.3 710.0,378.7 710.6,379.1C711.2,379.5 711.9,381.3 712.5,381.0C713.1,380.7 713.9,379.1 714.4,377.2C714.9,375.4 715.3,371.1 715.6,369.8C716.0,368.4 716.2,368.3 716.5,369.1C716.8,370.0 717.1,372.8 717.5,374.8C717.9,376.7 718.2,379.3 718.8,381.0C719.3,382.7 720.0,384.1 720.6,384.8C721.2,385.4 721.9,385.1 722.5,384.8C723.1,384.4 723.9,382.9 724.4,382.9C724.9,382.9 725.2,383.4 725.6,384.8C726.0,386.1 726.4,389.4 726.9,391.0C727.4,392.6 727.9,393.8 728.8,394.1C729.6,394.4 731.1,392.4 731.9,392.9C732.6,393.4 732.7,395.3 733.1,397.2C733.5,399.2 733.9,402.5 734.4,404.8C734.9,407.0 735.5,409.6 736.2,411.0C737.0,412.4 737.9,412.6 738.8,412.9C739.6,413.2 740.4,412.6 741.2,412.9C742.1,413.2 742.9,413.8 743.8,414.8C744.6,415.7 745.4,417.4 746.2,418.5C747.1,419.6 747.8,420.8 748.8,421.6C749.7,422.5 751.0,423.6 751.9,423.8C752.7,423.9 753.2,424.0 753.8,422.2C754.3,420.5 754.5,416.4 755.0,413.5C755.5,410.6 756.2,407.0 756.9,404.8C757.5,402.5 758.2,401.8 758.8,399.8C759.3,397.7 759.5,394.5 760.0,392.2C760.5,390.0 760.9,387.2 761.5,386.0C762.1,384.8 763.1,384.9 763.8,384.8C764.4,384.6 765.1,386.2 765.6,385.4C766.1,384.5 766.5,381.5 766.9,379.8C767.3,378.0 767.5,375.8 768.0,374.8C768.5,373.8 769.0,372.9 769.8,373.8C770.5,374.6 771.2,378.8 772.2,380.0C773.3,381.2 774.8,382.1 776.0,381.2C777.2,380.4 778.5,376.4 779.8,375.0C781.0,373.6 782.5,372.6 783.5,373.0C784.5,373.4 785.0,376.3 786.0,377.5C787.0,378.7 788.5,379.6 789.8,380.0C791.0,380.4 792.5,378.8 793.5,380.0C794.5,381.2 795.1,385.4 796.0,387.5C796.9,389.6 797.8,391.2 799.0,392.5C800.2,393.8 802.1,395.2 803.5,395.0C804.9,394.8 806.2,391.7 807.2,391.2C808.3,390.8 808.9,391.5 809.8,392.5C810.6,393.5 811.4,398.1 812.2,397.5C813.1,396.9 813.9,391.2 814.8,388.8C815.6,386.2 816.2,384.0 817.2,382.5C818.3,381.0 819.8,379.8 821.0,380.0C822.2,380.2 823.5,382.3 824.8,383.8C826.0,385.2 827.0,387.7 828.5,388.8C830.0,389.8 832.0,391.2 833.5,390.0C835.0,388.8 836.2,384.4 837.2,381.2C838.3,378.1 838.8,373.5 839.8,371.2C840.7,369.0 842.0,367.2 843.0,368.0C844.0,368.8 845.1,373.2 846.0,376.2C846.9,379.3 847.7,383.5 848.5,386.2C849.3,389.0 850.1,390.0 851.0,392.5C851.9,395.0 853.1,399.0 854.0,401.2C854.9,403.5 855.7,405.6 856.5,406.2C857.3,406.9 858.0,404.7 859.0,405.0C860.0,405.3 861.1,408.0 862.2,408.0C863.4,408.0 864.8,406.5 866.0,405.0C867.2,403.5 868.7,400.6 869.8,398.8C870.8,396.9 871.2,395.0 872.2,393.8C873.3,392.5 874.8,391.5 876.0,391.2C877.2,391.0 878.5,392.4 879.8,392.0C881.0,391.6 882.0,389.6 883.5,388.8C885.0,387.9 886.8,387.2 888.5,387.0C890.2,386.8 892.0,387.0 893.5,387.5C895.0,388.0 896.2,389.0 897.2,390.0C898.3,391.0 898.9,393.8 899.8,393.8C900.6,393.8 901.3,389.8 902.2,390.0C903.2,390.2 904.5,394.4 905.5,395.0C906.5,395.6 907.4,394.8 908.5,393.8C909.6,392.7 911.0,389.8 912.2,388.8C913.5,387.7 915.0,387.3 916.0,387.5C917.0,387.7 917.5,390.2 918.5,390.0C919.5,389.8 921.0,386.8 922.2,386.2C923.5,385.8 925.0,387.1 926.0,387.0C927.0,386.9 927.8,386.7 928.5,385.5C929.2,384.3 930.2,380.9 930.5,380.0"/>
<path stroke="#ff33cc" d="M51.5,297.5C51.8,297.7 52.5,297.7 53.4,298.8C54.2,299.8 55.6,302.5 56.5,303.8C57.4,305.0 58.0,305.9 59.0,306.2C60.0,306.6 61.8,305.4 62.8,305.6C63.7,305.8 63.9,307.9 64.6,307.5C65.4,307.1 66.5,303.3 67.1,303.1C67.8,302.9 68.0,304.8 68.4,306.2C68.8,307.7 68.9,310.7 69.6,311.9C70.4,313.0 71.8,312.5 72.8,313.1C73.7,313.8 74.4,314.7 75.2,315.6C76.1,316.6 76.8,318.0 77.8,318.8C78.7,319.5 80.0,320.0 80.9,320.0C81.7,320.0 81.9,318.5 82.8,318.8C83.6,319.0 84.7,320.6 85.9,321.2C87.0,321.9 88.8,321.0 89.6,322.5C90.5,324.0 90.5,327.1 90.9,330.0C91.3,332.9 91.6,337.3 92.1,340.0C92.6,342.7 93.3,345.4 94.0,346.2C94.7,347.1 95.8,345.4 96.5,345.0C97.2,344.6 97.5,343.2 98.4,343.8C99.2,344.3 100.7,348.8 101.5,348.1C102.3,347.5 102.9,342.6 103.4,340.0C103.9,337.4 103.9,334.0 104.6,332.5C105.4,331.0 107.0,332.7 107.8,331.2C108.5,329.8 108.6,326.1 109.0,323.8C109.4,321.4 109.6,318.0 110.2,316.9C110.9,315.7 112.1,315.9 112.8,316.9C113.4,317.8 113.6,319.9 114.0,322.5C114.4,325.1 114.8,330.3 115.2,332.5C115.7,334.7 116.1,335.6 116.5,335.6C116.9,335.6 117.2,333.5 117.8,332.5C118.3,331.5 119.0,329.4 119.6,329.4C120.2,329.4 121.0,331.6 121.5,332.5C122.0,333.4 122.2,336.0 122.8,335.0C123.3,334.0 124.0,328.2 124.6,326.2C125.2,324.3 125.7,323.4 126.5,323.1C127.3,322.8 128.6,323.8 129.6,324.4C130.7,325.0 131.9,327.3 132.8,326.9C133.6,326.5 134.0,323.0 134.6,321.9C135.2,320.7 135.4,320.3 136.5,320.0C137.6,319.7 140.4,319.4 141.5,320.0C142.6,320.6 142.8,322.9 143.4,323.8C144.0,324.6 144.1,324.9 145.2,325.0C146.4,325.1 149.1,324.1 150.2,324.4C151.4,324.7 151.5,326.2 152.1,326.9C152.8,327.5 153.2,328.2 154.0,328.1C154.8,328.0 156.3,326.2 157.1,326.2C158.0,326.2 158.4,327.6 159.0,328.1C159.6,328.6 160.1,329.7 160.9,329.4C161.6,329.1 162.5,328.2 163.4,326.2C164.2,324.3 165.1,320.4 165.9,317.5C166.6,314.6 167.2,312.1 167.8,308.8C168.3,305.4 168.6,300.6 169.0,297.5C169.4,294.4 169.8,291.4 170.2,290.0C170.8,288.6 171.3,289.0 172.0,289.0C172.7,289.0 173.8,289.6 174.5,290.2C175.2,290.9 175.8,293.4 176.4,292.8C177.0,292.1 177.6,287.3 178.2,286.5C178.9,285.7 179.5,287.2 180.1,287.8C180.8,288.3 181.3,289.4 182.0,289.6C182.7,289.8 183.5,289.2 184.5,289.0C185.5,288.8 187.2,289.6 188.2,288.4C189.3,287.1 190.0,284.3 190.8,281.5C191.5,278.7 192.0,273.9 192.6,271.5C193.2,269.1 193.7,267.3 194.2,267.1C194.8,266.9 195.2,269.3 195.8,270.2C196.3,271.2 196.9,273.0 197.6,272.8C198.4,272.5 199.4,271.1 200.1,269.0C200.9,266.9 201.4,262.6 202.0,260.2C202.6,257.9 203.1,255.8 203.9,254.6C204.6,253.5 205.5,253.3 206.4,253.4C207.2,253.5 208.0,253.7 208.9,255.2C209.7,256.8 210.5,259.8 211.4,262.8C212.2,265.7 213.1,270.1 213.9,272.8C214.6,275.4 215.1,278.8 215.8,278.4C216.4,278.0 217.0,272.1 217.6,270.2C218.2,268.4 218.7,267.2 219.2,267.1C219.8,267.0 220.2,268.7 220.8,269.6C221.3,270.6 221.9,273.2 222.6,272.8C223.4,272.3 224.1,268.3 225.1,267.1C226.2,266.0 227.9,267.2 228.9,265.9C229.8,264.5 230.2,260.4 230.8,259.0C231.3,257.6 231.6,257.1 232.0,257.8C232.4,258.4 232.8,261.0 233.2,262.8C233.7,264.5 234.2,268.6 234.9,268.4C235.5,268.2 236.1,262.3 237.0,261.5C237.9,260.7 239.0,262.8 240.1,263.4C241.3,264.0 242.7,265.4 243.9,265.2C245.0,265.1 246.0,263.5 247.0,262.8C248.0,262.0 249.3,263.0 250.1,260.9C251.0,258.8 251.4,253.0 252.0,250.2C252.6,247.5 252.9,244.6 253.5,244.6C254.1,244.6 255.0,248.7 255.8,250.2C256.5,251.8 257.5,253.2 258.2,254.0C259.0,254.8 259.4,255.6 260.1,255.2C260.9,254.9 261.9,252.4 262.6,252.1C263.4,251.8 263.8,252.0 264.5,253.4C265.2,254.7 266.2,257.6 267.0,260.2C267.8,262.9 268.7,266.3 269.5,269.0C270.3,271.7 271.4,276.9 272.0,276.5C272.6,276.1 272.7,268.7 273.2,266.5C273.8,264.3 274.3,263.6 275.1,263.4C276.0,263.2 277.2,264.1 278.2,265.2C279.3,266.4 280.3,268.3 281.4,270.2C282.4,272.2 283.6,275.7 284.5,277.1C285.4,278.6 286.0,278.9 287.0,279.0C288.0,279.1 289.9,277.1 290.8,277.8C291.6,278.4 291.5,281.0 292.0,282.8C292.5,284.5 293.0,287.8 293.9,288.4C294.7,289.0 295.7,286.6 297.0,286.5C298.3,286.4 300.3,287.8 301.6,287.5C302.9,287.2 303.8,286.7 304.8,285.0C305.7,283.3 306.4,279.9 307.2,277.5C308.1,275.1 308.8,271.9 309.8,270.6C310.7,269.4 311.9,270.4 312.9,270.0C313.8,269.6 314.5,268.0 315.4,268.1C316.2,268.2 317.0,268.9 317.9,270.6C318.7,272.4 319.5,276.4 320.4,278.8C321.2,281.1 322.1,283.5 322.9,285.0C323.6,286.5 324.0,287.5 324.8,287.5C325.5,287.5 326.3,285.5 327.2,285.0C328.2,284.5 329.5,283.8 330.4,284.4C331.2,285.0 331.6,287.2 332.2,288.8C332.9,290.3 333.6,294.4 334.1,293.8C334.6,293.1 335.0,287.0 335.4,285.0C335.8,283.0 336.0,282.4 336.6,281.9C337.2,281.4 338.3,280.9 339.1,281.9C340.0,282.8 340.8,285.6 341.6,287.5C342.5,289.4 343.3,291.9 344.1,293.1C345.0,294.4 345.8,294.8 346.6,295.0C347.5,295.2 348.4,295.4 349.1,294.4C349.9,293.3 350.4,289.9 351.0,288.8C351.6,287.6 352.2,287.3 352.9,287.5C353.5,287.7 354.1,289.3 354.8,290.0C355.4,290.7 355.8,291.7 356.6,291.9C357.5,292.1 358.7,291.6 359.8,291.2C360.8,290.9 361.8,290.5 362.9,290.0C363.9,289.5 365.1,289.0 366.0,288.1C366.9,287.3 367.8,287.0 368.5,285.0C369.2,283.0 369.8,278.5 370.4,276.2C371.0,274.0 371.5,272.2 372.2,271.2C373.0,270.3 374.2,269.2 374.8,270.6C375.3,272.1 375.4,276.6 375.8,280.0C376.1,283.4 376.3,289.2 376.6,291.2C377.0,293.3 377.5,293.1 377.9,292.5C378.3,291.9 378.6,288.8 379.1,287.5C379.6,286.2 380.2,284.8 380.8,285.0C381.3,285.2 381.7,287.5 382.2,288.8C382.8,290.0 383.5,292.7 384.1,292.5C384.8,292.3 385.4,289.9 386.0,287.5C386.6,285.1 387.3,280.4 387.9,278.1C388.5,275.8 389.0,273.9 389.5,273.8C390.0,273.6 390.4,276.1 391.0,277.5C391.6,278.9 392.2,282.3 392.9,281.9C393.5,281.5 394.2,276.7 394.8,275.0C395.3,273.3 395.8,271.9 396.4,271.9C397.0,271.9 397.6,273.4 398.2,275.0C398.9,276.6 399.7,279.6 400.4,281.2C401.0,282.9 401.5,285.1 402.2,285.0C403.0,284.9 403.9,282.1 404.8,280.6C405.6,279.2 406.4,277.2 407.2,276.2C408.1,275.3 408.9,275.1 409.8,275.0C410.6,274.9 411.5,276.5 412.2,275.6C413.0,274.8 413.5,272.2 414.1,270.0C414.8,267.8 415.4,264.4 416.0,262.5C416.6,260.6 417.2,258.3 417.9,258.8C418.5,259.2 419.1,263.1 419.8,265.0C420.4,266.9 421.0,268.5 421.6,270.0C422.3,271.5 422.8,272.3 423.8,273.8C424.7,275.2 426.4,278.3 427.5,278.8C428.6,279.2 429.5,278.8 430.5,276.2C431.5,273.8 432.7,266.2 433.8,263.8C434.8,261.2 436.0,261.5 437.0,261.2C438.0,261.0 439.1,263.8 440.0,262.5C440.9,261.2 441.7,255.8 442.5,253.8C443.3,251.8 444.1,250.9 445.0,250.5C445.9,250.1 447.0,250.1 448.0,251.2C449.0,252.4 450.3,255.2 451.2,257.5C452.2,259.8 452.8,262.9 453.8,265.0C454.7,267.1 456.0,268.3 457.0,270.0C458.0,271.7 458.8,272.9 459.5,275.0C460.2,277.1 460.5,280.4 461.2,282.5C462.0,284.6 462.9,287.9 463.8,287.5C464.6,287.1 465.4,281.5 466.2,280.0C467.1,278.5 467.9,278.1 468.8,278.8C469.6,279.4 470.4,281.0 471.2,283.8C472.1,286.5 472.9,292.1 473.8,295.0C474.6,297.9 475.3,301.0 476.2,301.2C477.2,301.5 478.5,297.5 479.5,296.2C480.5,295.0 481.5,293.8 482.5,293.8C483.5,293.8 484.5,296.2 485.5,296.2C486.5,296.2 487.8,295.4 488.8,293.8C489.7,292.1 490.5,287.7 491.2,286.2C492.0,284.8 492.4,284.4 493.0,285.0C493.6,285.6 494.3,286.7 495.0,290.0C495.7,293.3 496.4,300.0 497.0,305.0C497.6,310.0 498.0,314.6 498.8,320.0C499.5,325.4 500.4,332.1 501.2,337.5C502.1,342.9 502.9,347.1 503.8,352.5C504.6,357.9 505.4,365.0 506.2,370.0C507.1,375.0 508.0,379.8 508.8,382.5C509.5,385.2 509.9,384.4 510.6,386.2C511.4,388.1 512.3,391.6 513.1,393.8C514.0,395.9 514.9,397.7 515.6,399.4C516.4,401.0 517.0,401.8 517.5,403.8C518.0,405.7 518.3,409.1 518.8,411.2C519.2,413.4 519.5,416.9 520.0,416.9C520.5,416.9 521.3,412.8 521.9,411.2C522.5,409.7 523.0,407.3 523.5,407.5C524.0,407.7 524.4,410.0 524.8,412.5C525.1,415.0 525.3,419.8 525.6,422.5C526.0,425.2 526.2,427.1 526.9,428.8C527.5,430.4 528.6,430.9 529.4,432.5C530.1,434.1 530.7,436.6 531.2,438.1C531.8,439.7 532.2,441.8 532.8,441.9C533.3,442.0 533.8,440.9 534.4,438.8C535.0,436.6 535.7,432.3 536.2,428.8C536.8,425.2 537.4,419.7 537.9,417.5C538.4,415.3 539.0,414.8 539.4,415.6C539.8,416.5 540.1,419.5 540.4,422.5C540.7,425.5 540.9,430.4 541.2,433.8C541.6,437.1 541.9,440.7 542.5,442.5C543.1,444.3 544.1,444.6 544.8,444.4C545.4,444.2 545.8,443.4 546.2,441.2C546.7,439.1 546.9,434.1 547.2,431.2C547.6,428.4 548.0,424.6 548.4,424.4C548.7,424.2 549.0,427.7 549.4,430.0C549.8,432.3 550.1,436.8 550.6,438.1C551.1,439.5 551.9,438.9 552.5,438.1C553.1,437.4 553.8,435.7 554.4,433.8C555.0,431.8 555.7,428.0 556.2,426.2C556.8,424.5 557.1,423.1 557.5,423.1C557.9,423.1 558.2,425.2 558.8,426.2C559.3,427.3 560.0,429.0 560.6,429.4C561.2,429.8 561.9,429.4 562.5,428.8C563.1,428.1 563.9,427.1 564.4,425.6C564.9,424.2 565.2,422.0 565.6,420.0C566.0,418.0 566.4,415.3 566.9,413.8C567.4,412.2 568.1,411.2 568.8,410.6C569.4,410.0 570.0,409.6 570.6,410.0C571.2,410.4 571.8,411.5 572.2,413.1C572.7,414.8 573.1,417.0 573.5,420.0C573.9,423.0 574.3,427.9 574.8,431.2C575.2,434.6 575.8,439.4 576.2,440.0C576.7,440.6 577.1,436.9 577.5,435.0C577.9,433.1 578.2,430.1 578.8,428.8C579.3,427.4 580.0,427.5 580.6,426.9C581.2,426.2 581.9,425.7 582.5,425.0C583.1,424.3 583.6,423.0 584.4,422.5C585.1,422.0 586.0,421.9 586.9,421.9C587.7,421.9 588.8,421.8 589.4,422.5C590.0,423.2 590.1,425.3 590.6,426.2C591.1,427.2 591.8,427.6 592.5,428.1C593.2,428.6 594.4,428.0 595.0,429.4C595.6,430.7 595.7,433.2 596.0,436.2C596.3,439.3 596.5,443.1 596.6,447.5C596.8,451.9 596.8,458.8 597.0,462.5C597.2,466.2 597.4,469.9 598.0,469.5C598.6,469.1 599.8,459.9 600.5,460.0C601.2,460.1 601.7,467.1 602.5,470.0C603.3,472.9 604.6,476.2 605.5,477.5C606.4,478.8 607.2,478.8 608.0,478.0C608.8,477.2 609.6,474.7 610.5,472.5C611.4,470.3 612.5,467.1 613.5,465.0C614.5,462.9 615.8,462.0 616.8,460.0C617.7,458.0 618.5,452.2 619.2,453.0C620.0,453.8 620.5,462.0 621.0,465.0C621.5,468.0 621.7,470.6 622.5,471.2C623.3,471.9 624.9,469.6 626.0,468.8C627.1,467.9 628.1,467.3 629.2,466.2C630.4,465.2 632.0,463.7 633.0,462.5C634.0,461.3 634.2,458.8 635.0,459.2C635.8,459.7 636.6,463.8 637.5,465.0C638.4,466.2 639.4,466.0 640.5,466.2C641.6,466.5 643.2,466.5 644.2,466.2C645.3,466.0 645.9,466.2 646.8,465.0C647.6,463.8 648.4,461.0 649.2,458.8C650.1,456.5 650.8,453.1 651.8,451.2C652.7,449.4 654.0,448.1 655.0,447.5C656.0,446.9 657.2,445.8 658.0,447.5C658.8,449.2 659.2,451.7 659.8,457.5C660.3,463.3 660.7,475.1 661.2,482.5C661.8,489.9 662.5,502.0 663.0,502.0C663.5,502.0 663.9,491.2 664.2,482.5C664.6,473.8 664.7,457.2 665.0,450.0C665.3,442.8 665.5,440.5 666.2,439.5C667.0,438.5 668.3,441.6 669.2,443.8C670.2,445.9 670.9,447.7 671.8,452.5C672.6,457.3 673.5,464.6 674.2,472.5C675.0,480.4 675.5,490.8 676.0,500.0C676.5,509.2 676.7,522.2 677.2,527.5C677.8,532.8 678.5,531.3 679.2,531.8C680.0,532.2 681.1,534.5 681.8,530.0C682.4,525.5 682.6,512.5 683.0,505.0C683.4,497.5 683.8,487.1 684.2,485.0C684.8,482.9 685.5,490.0 686.0,492.5C686.5,495.0 687.0,501.7 687.5,500.0C688.0,498.3 688.8,488.5 689.2,482.5C689.8,476.5 689.9,465.4 690.5,463.8C691.1,462.1 692.2,470.6 693.0,472.5C693.8,474.4 694.7,475.0 695.5,475.0C696.3,475.0 697.4,474.8 698.0,472.5C698.6,470.2 698.8,463.3 699.2,461.2C699.8,459.2 700.4,458.1 701.0,460.0C701.6,461.9 702.3,466.7 703.0,472.5C703.7,478.3 704.5,489.4 705.0,495.0C705.5,500.6 705.8,506.2 706.2,506.2C706.8,506.2 707.4,497.8 708.0,495.0C708.6,492.2 709.2,489.3 710.0,489.5C710.8,489.7 712.0,493.9 713.0,496.2C714.0,498.6 715.0,501.7 716.0,503.8C717.0,505.8 718.5,510.2 719.2,508.8C720.0,507.3 720.1,500.6 720.5,495.0C720.9,489.4 721.3,477.9 721.8,475.0C722.2,472.1 722.6,473.8 723.0,477.5C723.4,481.2 723.8,493.0 724.2,497.5C724.7,502.0 725.1,508.2 725.5,504.5C725.9,500.8 726.4,483.7 726.8,475.0C727.1,466.3 727.1,456.5 727.5,452.5C727.9,448.5 728.5,451.2 729.2,451.2C730.0,451.2 731.1,455.6 731.8,452.5C732.4,449.4 733.0,436.9 733.2,432.5C733.5,428.1 733.2,428.0 733.5,426.0C733.8,424.0 734.3,420.8 734.8,420.4C735.2,420.0 735.8,422.4 736.2,423.5C736.8,424.6 737.2,428.3 737.8,427.2C738.3,426.2 738.8,419.6 739.4,417.2C739.9,414.9 740.4,413.6 741.0,412.9C741.6,412.1 742.5,411.9 743.1,412.9C743.8,413.8 744.1,416.3 744.8,418.5C745.4,420.7 746.2,423.1 746.9,426.0C747.5,428.9 748.2,433.6 748.8,436.0C749.3,438.4 749.7,441.6 750.2,440.4C750.8,439.1 751.3,431.9 751.9,428.5C752.4,425.1 752.9,422.2 753.5,419.8C754.1,417.2 755.0,416.2 755.6,413.5C756.3,410.8 756.9,406.0 757.5,403.5C758.1,401.0 758.8,399.3 759.4,398.5C760.0,397.7 760.6,397.7 761.2,398.5C761.9,399.3 762.6,401.2 763.1,403.5C763.6,405.8 764.0,410.4 764.4,412.2C764.8,414.1 765.0,415.4 765.4,414.8C765.7,414.1 766.1,410.8 766.5,408.5C766.9,406.2 767.5,403.0 768.0,401.0C768.5,399.0 769.0,396.4 769.8,396.2C770.5,396.1 771.4,398.3 772.2,400.0C773.1,401.7 773.9,405.8 774.8,406.2C775.6,406.7 776.4,405.6 777.2,402.5C778.1,399.4 778.9,391.5 779.8,387.5C780.6,383.5 781.2,380.2 782.2,378.8C783.3,377.3 784.8,377.5 786.0,378.8C787.2,380.0 788.8,384.4 789.8,386.2C790.7,388.1 790.8,390.6 791.5,390.0C792.2,389.4 793.2,385.4 794.0,382.5C794.8,379.6 795.7,374.4 796.5,372.5C797.3,370.6 798.2,370.0 799.0,371.2C799.8,372.5 800.2,377.3 801.0,380.0C801.8,382.7 802.7,388.1 803.5,387.5C804.3,386.9 805.2,377.5 806.0,376.2C806.8,375.0 807.7,377.7 808.5,380.0C809.3,382.3 810.2,389.0 811.0,390.0C811.8,391.0 812.4,388.1 813.0,386.2C813.6,384.4 814.0,379.0 814.8,378.8C815.5,378.5 816.5,382.3 817.2,385.0C818.0,387.7 818.4,392.1 819.0,395.0C819.6,397.9 820.2,400.8 821.0,402.5C821.8,404.2 822.7,404.2 823.5,405.0C824.3,405.8 825.2,406.0 826.0,407.5C826.8,409.0 827.7,412.3 828.5,413.8C829.3,415.2 830.2,417.3 831.0,416.2C831.8,415.2 832.7,411.9 833.5,407.5C834.3,403.1 835.2,396.2 836.0,390.0C836.8,383.8 837.4,374.8 838.0,370.0C838.6,365.2 838.9,363.2 839.8,361.2C840.6,359.2 842.0,358.3 843.0,358.0C844.0,357.7 845.1,357.9 846.0,359.5C846.9,361.1 847.7,365.8 848.5,367.5C849.3,369.2 850.2,368.8 851.0,370.0C851.8,371.2 852.7,373.3 853.5,375.0C854.3,376.7 855.2,379.4 856.0,380.0C856.8,380.6 857.5,379.2 858.5,378.8C859.5,378.3 861.2,376.7 862.2,377.5C863.3,378.3 863.9,381.9 864.8,383.8C865.6,385.6 866.4,387.1 867.2,388.8C868.1,390.4 868.9,393.8 869.8,393.8C870.6,393.8 871.4,391.0 872.2,388.8C873.1,386.5 873.9,382.5 874.8,380.0C875.6,377.5 876.2,375.0 877.2,373.8C878.3,372.5 879.9,372.1 881.0,372.5C882.1,372.9 883.0,375.2 884.0,376.2C885.0,377.3 886.1,378.1 887.2,378.8C888.4,379.4 889.8,379.2 891.0,380.0C892.2,380.8 893.7,383.3 894.8,383.8C895.8,384.2 896.2,383.1 897.2,382.5C898.3,381.9 899.8,381.0 901.0,380.0C902.2,379.0 903.5,377.0 904.8,376.2C906.0,375.5 907.2,375.3 908.5,375.5C909.8,375.7 911.0,376.5 912.2,377.5C913.5,378.5 914.8,379.4 916.0,381.2C917.2,383.1 918.7,386.2 919.8,388.8C920.8,391.2 921.4,394.0 922.2,396.2C923.1,398.5 923.9,400.8 924.8,402.5C925.6,404.2 926.4,406.7 927.2,406.2C928.1,405.8 929.2,401.7 929.8,400.0C930.3,398.3 930.4,396.9 930.5,396.2"/>
<path stroke="#00ccff" d="M51.5,297.5C52.0,297.6 54.0,298.6 54.8,298.0C55.5,297.4 55.6,295.4 56.0,294.0C56.4,292.6 56.4,290.9 57.1,289.6C57.8,288.4 59.3,286.6 60.2,286.5C61.2,286.4 61.6,288.6 62.8,289.0C63.9,289.4 65.5,289.7 67.1,289.0C68.8,288.3 71.0,285.4 72.8,284.6C74.5,283.9 76.3,284.3 77.8,284.6C79.2,284.9 80.2,286.0 81.5,286.5C82.8,287.0 84.1,287.8 85.2,287.8C86.4,287.8 87.6,288.0 88.4,286.5C89.1,285.0 89.2,281.1 89.6,279.0C90.0,276.9 90.2,274.2 90.9,274.0C91.5,273.8 92.6,276.1 93.4,277.8C94.1,279.4 94.6,285.0 95.2,284.0C95.9,283.0 96.5,274.8 97.1,271.5C97.8,268.2 98.3,265.8 99.0,264.0C99.7,262.2 100.5,260.5 101.2,260.9C102.0,261.3 102.6,264.6 103.4,266.5C104.1,268.4 104.9,270.7 105.9,272.1C106.8,273.6 107.9,274.3 109.0,275.2C110.1,276.2 111.8,276.3 112.8,277.8C113.7,279.2 114.0,281.3 114.6,284.0C115.2,286.7 116.0,292.1 116.5,294.0C117.0,295.9 117.2,296.1 117.8,295.2C118.3,294.4 119.0,292.1 119.6,289.0C120.2,285.9 120.9,279.3 121.5,276.5C122.1,273.7 122.5,271.7 123.0,272.1C123.5,272.5 124.1,276.2 124.6,279.0C125.1,281.8 125.5,286.1 125.9,289.0C126.3,291.9 126.6,295.3 127.1,296.5C127.6,297.7 128.3,295.9 129.0,296.2C129.7,296.6 130.7,297.5 131.5,298.8C132.3,300.0 133.2,302.5 134.0,303.8C134.8,305.0 135.5,305.6 136.5,306.2C137.5,306.9 139.1,307.6 140.2,307.5C141.4,307.4 142.5,306.9 143.4,305.6C144.2,304.4 144.7,301.8 145.2,300.0C145.8,298.2 145.7,296.6 146.5,295.0C147.3,293.4 149.0,292.3 150.2,290.2C151.5,288.2 153.0,283.6 154.0,282.8C155.0,281.9 155.7,283.8 156.5,285.2C157.3,286.7 158.3,289.6 159.0,291.5C159.7,293.4 160.1,297.0 160.9,296.5C161.6,296.0 162.7,288.6 163.4,288.4C164.1,288.2 164.4,292.9 165.0,295.2C165.6,297.6 166.5,299.6 167.1,302.5C167.8,305.4 168.2,310.2 169.0,312.5C169.8,314.8 171.2,316.6 172.0,316.2C172.8,315.9 173.2,311.9 173.9,310.6C174.5,309.4 175.0,308.9 175.8,308.8C176.5,308.6 177.2,310.0 178.2,310.0C179.3,310.0 181.0,309.1 182.0,308.8C183.0,308.4 183.6,309.1 184.5,308.1C185.4,307.2 186.7,303.6 187.6,303.1C188.6,302.6 189.3,305.9 190.1,305.0C191.0,304.1 192.1,300.0 192.6,297.5C193.1,295.0 192.9,291.9 193.2,290.2C193.6,288.6 194.0,287.1 194.5,287.8C195.0,288.4 195.9,292.8 196.4,294.0C196.9,295.2 197.1,293.0 197.4,295.0C197.7,297.0 197.9,302.6 198.2,306.2C198.6,309.9 199.0,315.0 199.5,316.9C200.0,318.8 200.8,317.8 201.4,317.5C202.0,317.2 202.6,314.6 203.2,315.0C203.9,315.4 204.5,317.9 205.1,320.0C205.8,322.1 206.4,327.2 207.0,327.5C207.6,327.8 208.0,322.6 208.9,321.9C209.7,321.1 210.9,322.6 212.0,323.1C213.1,323.6 214.8,323.6 215.8,325.0C216.7,326.4 217.0,329.9 217.6,331.2C218.2,332.6 218.8,334.0 219.5,333.1C220.2,332.3 221.1,328.4 222.0,326.2C222.9,324.1 224.1,322.1 225.1,320.0C226.2,317.9 227.3,314.3 228.2,313.8C229.2,313.2 229.9,315.6 230.8,316.9C231.6,318.1 232.5,319.5 233.2,321.2C234.0,323.0 234.6,324.6 235.1,327.5C235.6,330.4 236.0,335.8 236.4,338.8C236.8,341.7 237.1,344.8 237.6,345.0C238.1,345.2 238.9,340.9 239.5,340.0C240.1,339.1 240.8,338.8 241.4,339.4C242.0,340.0 242.7,342.7 243.2,343.8C243.8,344.8 244.0,346.1 244.5,345.6C245.0,345.1 245.4,342.3 246.4,340.6C247.3,339.0 249.2,334.9 250.1,335.6C251.1,336.4 251.4,342.7 252.0,345.0C252.6,347.3 252.9,349.1 253.5,349.4C254.1,349.7 254.8,348.4 255.8,346.9C256.8,345.3 258.5,341.6 259.5,340.0C260.5,338.4 261.1,336.9 262.0,337.5C262.9,338.1 264.2,344.1 265.1,343.8C266.1,343.4 266.7,337.3 267.6,335.6C268.6,334.0 269.8,334.0 270.8,333.8C271.7,333.5 272.5,333.6 273.2,334.4C274.0,335.1 274.3,338.2 275.1,338.1C276.0,338.0 277.2,334.9 278.2,333.8C279.3,332.6 280.4,330.9 281.4,331.2C282.3,331.6 282.9,334.5 283.9,335.6C284.8,336.8 286.0,337.6 287.0,338.1C288.0,338.6 289.2,339.1 290.1,338.8C291.1,338.4 291.7,337.2 292.6,336.2C293.6,335.3 295.2,333.8 295.8,333.1C296.0,332.5 295.8,332.0 296.0,332.5C296.7,333.0 298.5,335.2 299.8,336.2C301.0,337.3 302.2,338.5 303.5,338.8C304.8,339.0 306.0,336.5 307.2,337.5C308.5,338.5 309.6,342.5 311.0,345.0C312.4,347.5 314.3,352.3 315.5,352.5C316.7,352.7 317.2,346.2 318.0,346.2C318.8,346.2 319.5,351.2 320.5,352.5C321.5,353.8 322.9,352.9 324.0,353.8C325.1,354.6 326.1,357.3 327.2,357.5C328.4,357.7 330.0,355.6 331.0,355.0C332.0,354.4 332.6,352.9 333.5,353.8C334.4,354.6 335.5,357.9 336.5,360.0C337.5,362.1 338.6,365.0 339.8,366.2C340.9,367.5 342.3,367.8 343.5,367.5C344.7,367.2 345.8,364.7 346.8,364.5C347.7,364.3 348.2,364.1 349.0,366.2C349.8,368.4 350.7,374.4 351.5,377.5C352.3,380.6 353.2,383.5 354.0,385.0C354.8,386.5 355.7,385.0 356.5,386.2C357.3,387.5 358.0,391.0 359.0,392.5C360.0,394.0 361.3,393.3 362.2,395.0C363.2,396.7 363.9,402.7 364.8,402.5C365.6,402.3 366.4,395.4 367.2,393.8C368.1,392.1 368.9,392.1 369.8,392.5C370.6,392.9 371.4,395.9 372.2,396.2C373.1,396.6 373.9,393.7 374.8,394.5C375.6,395.3 376.2,400.5 377.2,401.2C378.3,402.0 380.0,399.4 381.0,398.8C382.0,398.1 382.6,396.0 383.5,397.5C384.4,399.0 385.5,406.9 386.5,407.5C387.5,408.1 388.8,402.7 389.8,401.2C390.7,399.8 391.4,397.7 392.2,398.8C393.1,399.8 394.1,404.9 394.8,407.5C395.4,410.1 395.4,415.3 396.0,414.5C396.6,413.7 397.5,404.9 398.5,402.5C399.5,400.1 401.3,399.2 402.2,400.0C403.2,400.8 403.2,405.8 404.0,407.5C404.8,409.2 406.3,408.3 407.2,410.0C408.2,411.7 409.0,415.4 409.8,417.5C410.5,419.6 410.9,423.8 411.5,422.5C412.1,421.2 412.8,412.9 413.5,410.0C414.2,407.1 414.8,405.6 415.5,405.0C416.2,404.4 417.2,407.1 418.0,406.2C418.8,405.4 419.7,401.2 420.5,400.0C421.3,398.8 422.1,399.4 423.0,398.8C423.9,398.1 425.2,397.5 426.0,396.2C426.8,395.0 427.2,391.2 428.0,391.2C428.8,391.2 429.7,396.2 430.5,396.2C431.3,396.2 432.2,391.5 433.0,391.2C433.8,391.0 434.8,393.8 435.5,395.0C436.2,396.2 436.5,400.4 437.2,398.8C438.0,397.1 438.9,388.2 439.8,385.0C440.6,381.8 441.3,380.5 442.2,379.5C443.2,378.5 444.5,377.8 445.5,378.8C446.5,379.7 447.5,385.0 448.5,385.0C449.5,385.0 450.5,381.0 451.5,378.8C452.5,376.5 453.7,373.5 454.8,371.2C455.8,369.0 457.0,367.5 458.0,365.0C459.0,362.5 459.7,359.0 460.5,356.2C461.3,353.5 462.2,350.2 463.0,348.8C463.8,347.3 464.6,346.7 465.5,347.5C466.4,348.3 467.7,351.9 468.5,353.8C469.3,355.6 469.6,360.0 470.2,358.8C470.9,357.5 471.5,348.8 472.2,346.2C473.0,343.8 473.9,343.1 474.8,343.8C475.6,344.4 476.4,347.5 477.2,350.0C478.1,352.5 478.9,356.7 479.8,358.8C480.6,360.8 481.4,361.0 482.2,362.5C483.1,364.0 483.8,366.5 484.8,367.5C485.7,368.5 487.0,367.9 488.0,368.8C489.0,369.6 490.0,371.5 491.0,372.5C492.0,373.5 493.1,375.5 494.0,374.5C494.9,373.5 495.7,368.5 496.5,366.2C497.3,364.0 497.9,362.1 499.0,361.2C500.1,360.4 501.8,361.2 503.0,361.2C504.2,361.2 505.1,363.3 506.0,361.2C506.9,359.2 507.6,351.2 508.5,348.8C509.4,346.2 510.6,346.9 511.5,346.2C512.4,345.6 513.2,346.9 514.0,345.0C514.8,343.1 515.3,337.3 516.0,335.0C516.7,332.7 517.2,331.9 518.0,331.2C518.8,330.6 520.1,332.5 521.0,331.2C521.9,330.0 522.8,326.5 523.5,323.8C524.2,321.0 524.7,317.9 525.5,315.0C526.3,312.1 527.4,308.2 528.5,306.2C529.6,304.2 531.1,302.8 532.2,303.0C533.4,303.2 534.5,306.5 535.5,307.5C536.5,308.5 537.4,309.0 538.5,308.8C539.6,308.5 541.0,305.6 542.2,306.2C543.5,306.9 544.9,310.8 546.0,312.5C547.1,314.2 548.0,315.4 549.0,316.2C550.0,317.1 551.2,316.7 552.0,317.5C552.8,318.3 553.0,318.8 553.8,321.2C554.5,323.8 555.5,330.1 556.2,332.5C557.0,334.9 557.4,336.3 558.0,335.5C558.6,334.7 559.0,328.4 560.0,327.5C561.0,326.6 562.5,328.1 563.8,330.0C565.0,331.9 566.5,336.6 567.5,338.8C568.5,340.9 569.2,344.5 570.0,343.0C570.8,341.5 571.7,334.7 572.5,330.0C573.3,325.3 574.2,317.7 575.0,315.0C575.8,312.3 576.4,311.7 577.0,313.8C577.6,315.8 578.2,323.1 578.8,327.5C579.3,331.9 579.9,337.5 580.5,340.0C581.1,342.5 581.8,342.3 582.5,342.5C583.2,342.7 584.2,340.4 585.0,341.2C585.8,342.1 586.4,347.1 587.0,347.5C587.6,347.9 588.0,345.2 588.8,343.8C589.5,342.3 590.4,338.5 591.2,338.8C592.1,339.0 593.0,346.0 593.8,345.0C594.5,344.0 594.9,336.5 595.5,332.5C596.1,328.5 596.8,322.9 597.5,321.2C598.2,319.6 599.2,322.5 600.0,322.5C600.8,322.5 601.7,322.9 602.5,321.2C603.3,319.6 604.2,315.0 605.0,312.5C605.8,310.0 606.7,307.9 607.5,306.2C608.3,304.6 609.2,303.1 610.0,302.5C610.8,301.9 611.8,301.2 612.5,302.5C613.2,303.8 613.9,306.2 614.5,310.0C615.1,313.8 615.5,322.1 616.2,325.0C617.0,327.9 617.9,326.0 618.8,327.5C619.6,329.0 620.4,332.3 621.2,333.8C622.1,335.2 622.9,337.1 623.8,336.2C624.6,335.4 625.4,330.6 626.2,328.8C627.1,326.9 627.9,325.2 628.8,325.0C629.6,324.8 630.2,327.7 631.2,327.5C632.3,327.3 633.8,324.0 635.0,323.8C636.2,323.5 637.9,325.8 638.8,326.2C639.6,326.7 639.5,325.8 640.0,326.2C640.5,326.7 641.1,328.1 641.9,328.8C642.6,329.4 643.6,330.2 644.4,330.0C645.1,329.8 645.5,328.0 646.2,327.5C647.0,327.0 647.9,326.6 648.8,326.9C649.6,327.2 650.5,328.2 651.2,329.4C652.0,330.5 652.4,332.6 653.1,333.8C653.9,334.9 654.7,335.7 655.6,336.2C656.6,336.8 657.8,336.9 658.8,336.9C659.7,336.9 660.6,337.8 661.2,336.2C661.9,334.7 662.1,332.5 662.5,327.5C662.9,322.5 663.2,311.5 663.5,306.2C663.8,301.0 663.8,298.5 664.0,296.0C664.2,293.5 664.5,292.0 665.0,291.0C665.5,290.0 666.2,289.8 666.9,290.0C667.5,290.2 668.2,290.8 668.8,292.2C669.3,293.7 669.6,296.0 670.0,298.5C670.4,301.0 670.9,305.8 671.1,307.2C671.4,308.8 671.2,307.0 671.5,307.5C671.8,308.0 672.5,309.8 673.1,310.0C673.7,310.2 674.5,311.7 675.0,308.8C675.5,305.8 675.8,296.5 676.2,292.2C676.7,288.0 677.0,285.3 677.5,283.5C678.0,281.7 678.8,281.4 679.4,281.6C680.0,281.8 680.6,283.0 681.2,284.8C681.9,286.5 682.5,290.0 683.1,292.2C683.7,294.5 684.3,298.5 684.8,298.5C685.2,298.5 685.5,293.8 686.0,292.2C686.5,290.7 686.9,289.6 687.5,289.1C688.1,288.6 688.8,288.4 689.4,289.1C690.0,289.9 690.7,291.3 691.2,293.5C691.8,295.7 692.5,299.7 692.9,302.2C693.2,304.8 693.0,306.6 693.4,308.8C693.7,310.9 694.4,313.1 695.0,315.0C695.6,316.9 696.3,317.9 696.9,320.0C697.5,322.1 698.0,324.4 698.5,327.5C699.0,330.6 699.4,336.4 699.8,338.8C700.1,341.1 700.3,342.5 700.6,341.9C701.0,341.2 701.5,338.2 701.9,335.0C702.3,331.8 702.7,326.2 703.1,322.5C703.5,318.8 703.9,315.4 704.4,312.5C704.9,309.6 705.6,306.9 706.0,305.0C706.4,303.1 706.1,303.1 706.5,301.0C706.9,298.9 707.5,295.2 708.1,292.2C708.7,289.3 709.4,286.0 710.0,283.5C710.6,281.0 711.0,278.5 711.5,277.2C712.0,276.0 712.5,276.1 713.1,275.8C713.7,275.4 714.3,275.6 715.0,275.4C715.7,275.1 716.8,274.6 717.5,274.1C718.2,273.7 718.9,272.1 719.4,272.6C719.9,273.1 720.3,274.0 720.6,277.2C721.0,280.5 721.3,285.3 721.5,292.2C721.7,299.2 721.7,312.7 721.9,318.8C722.0,324.8 722.2,329.2 722.5,328.8C722.8,328.3 723.1,320.6 723.5,316.2C723.9,311.9 724.5,305.5 724.8,302.5C725.0,299.5 724.9,299.6 725.1,298.5C725.3,297.4 725.7,291.6 726.0,296.0C726.3,300.4 726.5,316.4 726.9,325.0C727.2,333.6 727.7,342.7 728.1,347.5C728.5,352.3 728.8,352.1 729.4,353.8C730.0,355.4 731.0,356.5 731.9,357.5C732.7,358.5 733.7,360.0 734.4,360.0C735.1,360.0 735.5,358.6 736.0,357.5C736.5,356.4 737.0,353.4 737.5,353.1C738.0,352.8 738.3,354.3 738.8,355.6C739.2,357.0 739.6,360.1 740.0,361.2C740.4,362.4 740.8,363.5 741.2,362.5C741.7,361.5 742.0,357.5 742.5,355.0C743.0,352.5 743.8,349.4 744.4,347.5C745.0,345.6 745.6,345.8 746.2,343.8C746.9,341.7 747.5,338.3 748.1,335.0C748.8,331.7 749.3,327.3 750.0,323.8C750.7,320.2 751.7,316.6 752.5,313.8C753.3,310.9 754.3,308.3 755.0,306.9C755.7,305.4 756.4,304.5 756.9,305.0C757.3,305.5 757.5,305.6 757.8,310.0C758.0,314.4 758.2,324.2 758.5,331.2C758.8,338.3 759.0,346.7 759.4,352.5C759.7,358.3 760.1,363.1 760.6,366.2C761.1,369.4 761.7,370.9 762.2,371.2C762.8,371.6 763.3,369.0 763.8,368.1C764.2,367.3 764.5,365.9 765.0,366.2C765.5,366.6 766.0,369.1 766.5,370.0C767.0,370.9 767.3,371.7 767.8,371.9C768.2,372.1 768.2,371.8 769.0,371.2C769.8,370.7 771.3,369.6 772.2,368.8C773.2,367.9 773.8,367.6 774.8,366.2C775.7,364.9 777.0,359.0 777.8,360.5C778.5,362.0 778.5,370.3 779.0,375.0C779.5,379.7 780.2,386.7 781.0,388.8C781.8,390.8 782.7,386.9 783.5,387.5C784.3,388.1 785.0,391.5 786.0,392.5C787.0,393.5 788.7,391.7 789.8,393.8C790.8,395.8 791.4,402.5 792.2,405.0C793.1,407.5 793.7,408.8 794.8,408.8C795.8,408.8 797.5,406.2 798.5,405.0C799.5,403.8 800.2,402.1 801.0,401.2C801.8,400.4 802.7,398.5 803.5,400.0C804.3,401.5 805.2,406.9 806.0,410.0C806.8,413.1 807.6,417.9 808.5,418.8C809.4,419.6 810.7,414.0 811.5,415.0C812.3,416.0 812.8,421.5 813.5,425.0C814.2,428.5 815.1,434.2 816.0,436.2C816.9,438.3 818.0,438.5 819.0,437.5C820.0,436.5 821.1,431.9 822.2,430.0C823.4,428.1 824.6,426.5 826.0,426.2C827.4,426.0 829.4,426.6 830.7,428.3C832.0,430.0 832.7,434.1 833.7,436.6C834.8,439.0 835.7,442.0 836.8,443.2C837.9,444.3 839.0,442.2 840.1,443.6C841.2,445.1 842.1,451.1 843.2,451.9C844.2,452.7 845.2,448.9 846.2,448.3C847.2,447.7 848.2,447.2 849.1,448.3C849.9,449.5 850.4,454.0 851.4,455.4C852.4,456.8 853.8,456.0 854.9,456.6C856.1,457.2 857.4,458.0 858.5,458.9C859.5,459.8 860.3,462.5 861.3,462.0C862.3,461.5 863.3,456.7 864.4,455.9C865.5,455.1 866.7,456.8 867.9,457.3C869.1,457.8 870.3,458.3 871.4,458.9C872.5,459.6 873.5,460.0 874.5,461.3C875.5,462.6 876.3,465.7 877.3,466.7C878.4,467.7 879.9,467.7 880.9,467.2C881.8,466.7 882.4,463.1 883.2,463.7C884.0,464.2 884.8,469.4 885.6,470.7C886.4,472.1 887.1,472.5 887.9,471.9C888.8,471.3 890.0,468.3 890.8,467.2C891.5,466.1 891.7,465.2 892.6,465.3C893.5,465.4 895.2,467.0 896.2,467.7C897.2,468.3 897.6,467.6 898.5,469.1C899.5,470.6 901.0,474.0 902.1,476.6C903.2,479.2 904.2,482.3 905.1,484.9C906.1,487.4 906.9,491.0 908.0,491.9C909.0,492.8 910.3,490.9 911.5,490.3C912.7,489.7 914.1,488.6 915.0,488.4C916.0,488.2 916.5,489.7 917.4,488.9C918.3,488.1 919.2,484.7 920.2,483.7C921.2,482.6 922.2,483.1 923.3,482.5C924.4,481.9 925.7,480.6 926.8,480.2C928.0,479.7 929.6,480.0 930.1,479.9"/>
</g>
<g font-family="Liberation Sans, sans-serif" font-size="12.4" fill="#565b66" text-anchor="end">
<text x="42.3" y="39.6">60</text>
<text x="42.3" y="126.9">40</text>
<text x="42.3" y="214.2">20</text>
<text x="42.3" y="302.6">0</text>
<text x="42.3" y="390.1">-20</text>
<text x="42.3" y="477.6">-40</text>
<text x="42.3" y="565.4">-60</text>
</g>
<g font-family="Liberation Sans, sans-serif" font-size="12.3" fill="#4c515b" text-anchor="middle">
<text transform="translate(54.5,575.6) rotate(-15)" opacity="0.3">5:55</text>
<text transform="translate(58.0,575.6) rotate(-15)">6:00</text>
<text transform="translate(126.1,575.6) rotate(-15)">8:00</text>
<text transform="translate(200.6,575.6) rotate(-15)">10:00</text>
<text transform="translate(275.1,575.6) rotate(-15)">12:00</text>
<text transform="translate(349.6,575.6) rotate(-15)">14:00</text>
<text transform="translate(424.1,575.6) rotate(-15)">16:00</text>
<text transform="translate(498.6,575.6) rotate(-15)">18:00</text>
<text transform="translate(573.1,575.6) rotate(-15)">20:00</text>
<text transform="translate(647.6,575.6) rotate(-15)">22:00</text>
<text transform="translate(722.1,575.6) rotate(-15)">0:00</text>
<text transform="translate(796.6,575.6) rotate(-15)">2:00</text>
<text transform="translate(871.1,575.6) rotate(-15)">4:00</text>
<text transform="translate(933.1,575.6) rotate(-15)">5:40</text>
</g>
</svg>
<div id="title">Today  (05:55~)</div>
<div class="btn" style="left:951.8px"><svg width="27" height="27" viewBox="0 0 27 27"><g fill="#fff"><rect x="6.500" y="10.500" width="13.400" height="1.600"/><rect x="6.500" y="13" width="13.400" height="1.600"/><path d="M13.100 9.400 L10 6.400 H12.200 V4 H14 V6.400 H16.200 Z"/><path d="M13.100 15.500 L10 18.600 H12.200 V21.200 H14 V18.600 H16.200 Z"/></g></svg></div>
<div class="btn" style="left:982.9px"><svg width="27" height="27" viewBox="0 0 27 27"><g fill="#fff"><rect x="5.700" y="4.900" width="14" height="1.800"/><rect x="5.700" y="19.100" width="14" height="1.800"/><path d="M12.700 7.100 L15.800 10.500 H13.600 V15.500 H15.800 L12.700 18.900 L9.600 15.500 H11.800 V10.500 H9.600 Z"/></g></svg></div>
<div class="lg" style="top:214.0px"><span class="lt">CAD</span><span class="sw" style="background:#6600ff"></span></div>
<div class="lg" style="top:235.2px"><span class="lt">CHF</span><span class="sw" style="background:#996600"></span></div>
<div class="lg" style="top:256.3px"><span class="lt">GBP</span><span class="sw" style="background:#00cc00"></span></div>
<div class="lg" style="top:277.4px"><span class="lt">AUD</span><span class="sw" style="background:#0033ff"></span></div>
<div class="lg" style="top:298.6px"><span class="lt">USD</span><span class="sw" style="background:#ff9900"></span></div>
<div class="lg" style="top:319.8px"><span class="lt">EUR</span><span class="sw" style="background:#ff0000"></span></div>
<div class="lg" style="top:340.9px"><span class="lt">NZD</span><span class="sw" style="background:#ff33cc"></span></div>
<div class="lg" style="top:362.0px"><span class="lt">JPY</span><span class="sw" style="background:#00ccff"></span></div>
<div id="event"><svg width="12" height="13" viewBox="0 0 13 14"><path fill="#fff" d="M2.5 0h1.6v1.5h4.8V0h1.6v1.5h1A1.5 1.5 0 0 1 13 3v9.5a1.5 1.5 0 0 1-1.5 1.500h-10A1.500 1.500 0 0 1 0 12.500V3a1.500 1.500 0 0 1 1.500-1.500h1zM1.600 5v7.400h9.800V5z"/><rect x="6.300" y="7.600" width="3.500" height="3.300" fill="#fff"/></svg><span>Event</span></div>
</body></html>
